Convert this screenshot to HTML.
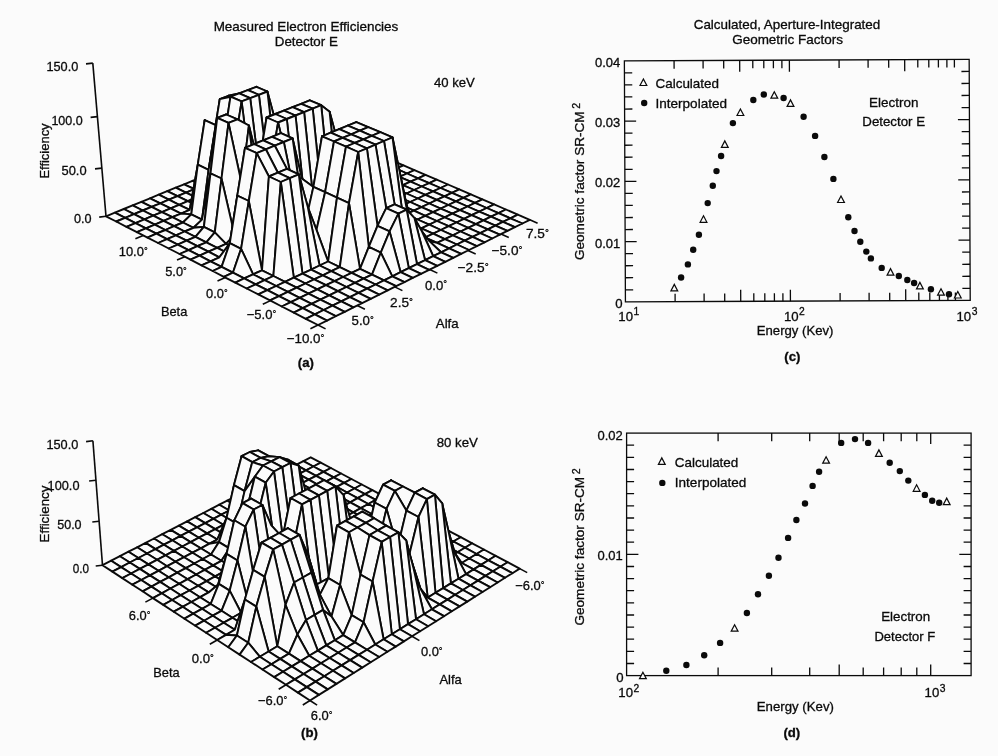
<!DOCTYPE html>
<html><head><meta charset="utf-8"><title>Figure</title>
<style>
html,body{margin:0;padding:0;background:#fbfbfb;}
body{width:998px;height:756px;overflow:hidden;}
svg{display:block;font-family:"Liberation Sans", sans-serif;fill:#0a0a0a;}
svg text{stroke:#0a0a0a;stroke-width:0.3px;}
</style></head><body>
<svg width="998" height="756" viewBox="0 0 998 756">
<rect width="998" height="756" fill="#fbfbfb" stroke="none"/>
<g fill="#fbfbfb" stroke="#0a0a0a" stroke-width="1.9" stroke-linejoin="round">
<path d="M311.5 132.1L321.7 136.5L329.2 133.4L319.0 129.0Z"/>
<path d="M303.9 135.2L314.2 139.6L321.7 136.5L311.5 132.1Z"/>
<path d="M296.3 138.3L306.6 142.8L314.2 139.6L303.9 135.2Z"/>
<path d="M288.7 141.4L298.9 146.0L306.6 142.8L296.3 138.3Z"/>
<path d="M280.9 144.6L291.2 149.2L298.9 146.0L288.7 141.4Z"/>
<path d="M273.2 147.8L283.4 152.4L291.2 149.2L280.9 144.6Z"/>
<path d="M265.4 151.0L275.6 155.6L283.4 152.4L273.2 147.8Z"/>
<path d="M257.5 154.2L267.7 158.9L275.6 155.6L265.4 151.0Z"/>
<path d="M249.6 157.5L259.8 162.1L267.7 158.9L257.5 154.2Z"/>
<path d="M241.6 160.7L251.8 165.4L259.8 162.1L249.6 157.5Z"/>
<path d="M233.5 164.0L243.8 168.8L251.8 165.4L241.6 160.7Z"/>
<path d="M225.5 167.3L235.7 172.1L243.8 168.8L233.5 164.0Z"/>
<path d="M217.3 170.7L227.6 175.5L235.7 172.1L225.5 167.3Z"/>
<path d="M209.1 174.0L219.4 178.9L227.6 175.5L217.3 170.7Z"/>
<path d="M200.8 177.4L211.1 182.3L219.4 178.9L209.1 174.0Z"/>
<path d="M192.5 180.8L202.8 185.7L211.1 182.3L200.8 177.4Z"/>
<path d="M184.1 184.3L194.4 189.2L202.8 185.7L192.5 180.8Z"/>
<path d="M175.7 187.7L186.0 192.7L194.4 189.2L184.1 184.3Z"/>
<path d="M167.2 191.2L177.5 196.2L186.0 192.7L175.7 187.7Z"/>
<path d="M158.7 194.7L168.9 199.7L177.5 196.2L167.2 191.2Z"/>
<path d="M150.0 198.3L160.3 203.3L168.9 199.7L158.7 194.7Z"/>
<path d="M141.4 201.8L151.6 206.9L160.3 203.3L150.0 198.3Z"/>
<path d="M132.6 205.4L142.8 210.5L151.6 206.9L141.4 201.8Z"/>
<path d="M123.8 209.0L134.0 214.2L142.8 210.5L132.6 205.4Z"/>
<path d="M114.9 212.6L125.2 217.8L134.0 214.2L123.8 209.0Z"/>
<path d="M106.0 216.3L116.2 221.5L125.2 217.8L114.9 212.6Z"/>
<path d="M321.7 136.5L332.1 141.0L339.6 137.9L329.2 133.4Z"/>
<path d="M314.2 139.6L324.5 144.1L332.1 141.0L321.7 136.5Z"/>
<path d="M306.6 142.8L316.9 147.3L324.5 144.1L314.2 139.6Z"/>
<path d="M298.9 146.0L309.2 150.5L316.9 147.3L306.6 142.8Z"/>
<path d="M291.2 149.2L301.5 153.7L309.2 150.5L298.9 146.0Z"/>
<path d="M283.4 152.4L293.8 157.0L301.5 153.7L291.2 149.2Z"/>
<path d="M275.6 155.6L286.0 160.3L293.8 157.0L283.4 152.4Z"/>
<path d="M267.7 158.9L278.1 163.5L286.0 160.3L275.6 155.6Z"/>
<path d="M259.8 162.1L270.2 166.8L278.1 163.5L267.7 158.9Z"/>
<path d="M251.8 165.4L262.2 170.2L270.2 166.8L259.8 162.1Z"/>
<path d="M243.8 168.8L254.1 173.5L262.2 170.2L251.8 165.4Z"/>
<path d="M235.7 172.1L246.1 176.9L254.1 173.5L243.8 168.8Z"/>
<path d="M227.6 175.5L237.9 180.3L246.1 176.9L235.7 172.1Z"/>
<path d="M219.4 178.9L229.7 183.7L237.9 180.3L227.6 175.5Z"/>
<path d="M211.1 182.3L221.4 187.2L229.7 183.7L219.4 178.9Z"/>
<path d="M202.8 185.7L213.1 190.7L221.4 187.2L211.1 182.3Z"/>
<path d="M194.4 189.2L204.7 194.2L213.1 190.7L202.8 185.7Z"/>
<path d="M186.0 192.7L196.3 197.7L204.7 194.2L194.4 189.2Z"/>
<path d="M177.5 196.2L187.8 201.2L196.3 197.7L186.0 192.7Z"/>
<path d="M168.9 199.7L179.2 204.8L187.8 201.2L177.5 196.2Z"/>
<path d="M160.3 203.3L170.6 208.4L179.2 204.8L168.9 199.7Z"/>
<path d="M151.6 206.9L161.9 212.1L170.6 208.4L160.3 203.3Z"/>
<path d="M142.8 210.5L153.2 215.7L161.9 212.1L151.6 206.9Z"/>
<path d="M134.0 214.2L144.4 219.4L153.2 215.7L142.8 210.5Z"/>
<path d="M125.2 217.8L135.5 223.1L144.4 219.4L134.0 214.2Z"/>
<path d="M116.2 221.5L126.5 226.8L135.5 223.1L125.2 217.8Z"/>
<path d="M332.1 141.0L342.5 145.5L350.0 142.3L339.6 137.9Z"/>
<path d="M324.5 144.1L334.9 148.7L342.5 145.5L332.1 141.0Z"/>
<path d="M316.9 147.3L327.3 151.9L334.9 148.7L324.5 144.1Z"/>
<path d="M309.2 150.5L319.7 155.1L327.3 151.9L316.9 147.3Z"/>
<path d="M301.5 153.7L312.0 158.4L319.7 155.1L309.2 150.5Z"/>
<path d="M293.8 157.0L304.2 161.7L312.0 158.4L301.5 153.7Z"/>
<path d="M286.0 160.3L296.4 164.9L304.2 161.7L293.8 157.0Z"/>
<path d="M278.1 163.5L288.5 168.3L296.4 164.9L286.0 160.3Z"/>
<path d="M270.2 166.8L280.6 171.6L288.5 168.3L278.1 163.5Z"/>
<path d="M262.2 170.2L272.6 175.0L280.6 171.6L270.2 166.8Z"/>
<path d="M254.1 173.5L264.2 159.8L272.6 175.0L262.2 170.2Z"/>
<path d="M246.1 176.9L255.3 134.8L264.2 159.8L254.1 173.5Z"/>
<path d="M237.9 180.3L246.0 104.2L255.3 134.8L246.1 176.9Z"/>
<path d="M229.7 183.7L237.3 100.5L246.0 104.2L237.9 180.3Z"/>
<path d="M221.4 187.2L228.5 95.8L237.3 100.5L229.7 183.7Z"/>
<path d="M213.1 190.7L219.8 99.1L228.5 95.8L221.4 187.2Z"/>
<path d="M204.7 194.2L212.8 142.0L219.8 99.1L213.1 190.7Z"/>
<path d="M196.3 197.7L206.0 185.8L212.8 142.0L204.7 194.2Z"/>
<path d="M187.8 201.2L198.2 206.3L206.0 185.8L196.3 197.7Z"/>
<path d="M179.2 204.8L189.7 209.9L198.2 206.3L187.8 201.2Z"/>
<path d="M170.6 208.4L181.0 213.6L189.7 209.9L179.2 204.8Z"/>
<path d="M161.9 212.1L172.3 217.2L181.0 213.6L170.6 208.4Z"/>
<path d="M153.2 215.7L163.6 220.9L172.3 217.2L161.9 212.1Z"/>
<path d="M144.4 219.4L154.8 224.6L163.6 220.9L153.2 215.7Z"/>
<path d="M135.5 223.1L145.9 228.4L154.8 224.6L144.4 219.4Z"/>
<path d="M126.5 226.8L136.9 232.2L145.9 228.4L135.5 223.1Z"/>
<path d="M342.5 145.5L353.0 150.1L360.5 146.9L350.0 142.3Z"/>
<path d="M334.9 148.7L345.4 153.3L353.0 150.1L342.5 145.5Z"/>
<path d="M327.3 151.9L337.8 156.5L345.4 153.3L334.9 148.7Z"/>
<path d="M319.7 155.1L330.2 159.8L337.8 156.5L327.3 151.9Z"/>
<path d="M312.0 158.4L322.5 163.1L330.2 159.8L319.7 155.1Z"/>
<path d="M304.2 161.7L314.7 166.4L322.5 163.1L312.0 158.4Z"/>
<path d="M296.4 164.9L306.9 169.7L314.7 166.4L304.2 161.7Z"/>
<path d="M288.5 168.3L299.0 173.0L306.9 169.7L296.4 164.9Z"/>
<path d="M280.6 171.6L291.1 176.4L299.0 173.0L288.5 168.3Z"/>
<path d="M272.6 175.0L283.1 179.8L291.1 176.4L280.6 171.6Z"/>
<path d="M264.2 159.8L274.6 153.2L283.1 179.8L272.6 175.0Z"/>
<path d="M255.3 134.8L265.6 120.6L274.6 153.2L264.2 159.8Z"/>
<path d="M246.0 104.2L256.4 86.8L265.6 120.6L255.3 134.8Z"/>
<path d="M237.3 100.5L247.8 90.1L256.4 86.8L246.0 104.2Z"/>
<path d="M228.5 95.8L239.2 93.4L247.8 90.1L237.3 100.5Z"/>
<path d="M219.8 99.1L230.5 96.7L239.2 93.4L228.5 95.8Z"/>
<path d="M212.8 142.0L223.4 142.7L230.5 96.7L219.8 99.1Z"/>
<path d="M206.0 185.8L213.9 126.2L223.4 142.7L212.8 142.0Z"/>
<path d="M198.2 206.3L204.7 120.2L213.9 126.2L206.0 185.8Z"/>
<path d="M189.7 209.9L197.8 164.7L204.7 120.2L198.2 206.3Z"/>
<path d="M181.0 213.6L191.3 214.4L197.8 164.7L189.7 209.9Z"/>
<path d="M172.3 217.2L182.9 222.5L191.3 214.4L181.0 213.6Z"/>
<path d="M163.6 220.9L174.1 226.2L182.9 222.5L172.3 217.2Z"/>
<path d="M154.8 224.6L165.3 230.0L174.1 226.2L163.6 220.9Z"/>
<path d="M145.9 228.4L156.4 233.7L165.3 230.0L154.8 224.6Z"/>
<path d="M136.9 232.2L147.5 237.6L156.4 233.7L145.9 228.4Z"/>
<path d="M353.0 150.1L363.6 154.7L371.1 151.4L360.5 146.9Z"/>
<path d="M345.4 153.3L356.1 157.9L363.6 154.7L353.0 150.1Z"/>
<path d="M337.8 156.5L348.5 161.2L356.1 157.9L345.4 153.3Z"/>
<path d="M330.2 159.8L340.8 164.5L348.5 161.2L337.8 156.5Z"/>
<path d="M322.5 163.1L333.1 167.8L340.8 164.5L330.2 159.8Z"/>
<path d="M314.7 166.4L325.3 171.1L333.1 167.8L322.5 163.1Z"/>
<path d="M306.9 169.7L317.5 174.5L325.3 171.1L314.7 166.4Z"/>
<path d="M299.0 173.0L309.7 177.8L317.5 174.5L306.9 169.7Z"/>
<path d="M291.1 176.4L301.7 181.2L309.7 177.8L299.0 173.0Z"/>
<path d="M283.1 179.8L293.8 184.7L301.7 181.2L291.1 176.4Z"/>
<path d="M274.6 153.2L285.3 158.1L293.8 184.7L283.1 179.8Z"/>
<path d="M265.6 120.6L276.5 125.4L285.3 158.1L274.6 153.2Z"/>
<path d="M256.4 86.8L267.4 91.5L276.5 125.4L265.6 120.6Z"/>
<path d="M247.8 90.1L258.9 94.8L267.4 91.5L256.4 86.8Z"/>
<path d="M239.2 93.4L250.2 98.1L258.9 94.8L247.8 90.1Z"/>
<path d="M230.5 96.7L241.6 101.4L250.2 98.1L239.2 93.4Z"/>
<path d="M223.4 142.7L234.3 147.7L241.6 101.4L230.5 96.7Z"/>
<path d="M213.9 126.2L224.8 131.1L234.3 147.7L223.4 142.7Z"/>
<path d="M204.7 120.2L215.7 125.1L224.8 131.1L213.9 126.2Z"/>
<path d="M197.8 164.7L208.6 169.8L215.7 125.1L204.7 120.2Z"/>
<path d="M191.3 214.4L202.0 219.6L208.6 169.8L197.8 164.7Z"/>
<path d="M182.9 222.5L193.5 227.8L202.0 219.6L191.3 214.4Z"/>
<path d="M174.1 226.2L184.7 231.5L193.5 227.8L182.9 222.5Z"/>
<path d="M165.3 230.0L175.9 235.3L184.7 231.5L174.1 226.2Z"/>
<path d="M156.4 233.7L167.0 239.1L175.9 235.3L165.3 230.0Z"/>
<path d="M147.5 237.6L158.1 243.0L167.0 239.1L156.4 233.7Z"/>
<path d="M363.6 154.7L374.3 159.3L381.8 156.0L371.1 151.4Z"/>
<path d="M356.1 157.9L366.8 162.6L374.3 159.3L363.6 154.7Z"/>
<path d="M348.5 161.2L359.2 165.9L366.8 162.6L356.1 157.9Z"/>
<path d="M340.8 164.5L351.5 169.2L359.2 165.9L348.5 161.2Z"/>
<path d="M333.1 167.8L343.8 172.5L351.5 169.2L340.8 164.5Z"/>
<path d="M325.3 171.1L336.1 175.9L343.8 172.5L333.1 167.8Z"/>
<path d="M317.5 174.5L328.2 179.3L336.1 175.9L325.3 171.1Z"/>
<path d="M309.7 177.8L320.4 182.7L328.2 179.3L317.5 174.5Z"/>
<path d="M301.7 181.2L312.5 186.1L320.4 182.7L309.7 177.8Z"/>
<path d="M293.8 184.7L304.5 189.6L312.5 186.1L301.7 181.2Z"/>
<path d="M285.3 158.1L296.5 193.1L304.5 189.6L293.8 184.7Z"/>
<path d="M276.5 125.4L288.4 196.6L296.5 193.1L285.3 158.1Z"/>
<path d="M267.4 91.5L280.2 200.1L288.4 196.6L276.5 125.4Z"/>
<path d="M258.9 94.8L272.0 203.7L280.2 200.1L267.4 91.5Z"/>
<path d="M250.2 98.1L263.8 207.3L272.0 203.7L258.9 94.8Z"/>
<path d="M241.6 101.4L255.4 210.9L263.8 207.3L250.2 98.1Z"/>
<path d="M234.3 147.7L247.1 214.5L255.4 210.9L241.6 101.4Z"/>
<path d="M224.8 131.1L236.5 155.0L247.1 214.5L234.3 147.7Z"/>
<path d="M215.7 125.1L226.2 114.5L236.5 155.0L224.8 131.1Z"/>
<path d="M208.6 169.8L217.2 117.9L226.2 114.5L215.7 125.1Z"/>
<path d="M202.0 219.6L210.5 173.3L217.2 117.9L208.6 169.8Z"/>
<path d="M193.5 227.8L203.9 226.9L210.5 173.3L202.0 219.6Z"/>
<path d="M184.7 231.5L195.4 236.9L203.9 226.9L193.5 227.8Z"/>
<path d="M175.9 235.3L186.6 240.7L195.4 236.9L184.7 231.5Z"/>
<path d="M167.0 239.1L177.7 244.6L186.6 240.7L175.9 235.3Z"/>
<path d="M158.1 243.0L168.8 248.5L177.7 244.6L167.0 239.1Z"/>
<path d="M374.3 159.3L385.1 164.0L392.6 160.7L381.8 156.0Z"/>
<path d="M366.8 162.6L377.5 167.3L385.1 164.0L374.3 159.3Z"/>
<path d="M359.2 165.9L370.0 170.6L377.5 167.3L366.8 162.6Z"/>
<path d="M351.5 169.2L362.3 174.0L370.0 170.6L359.2 165.9Z"/>
<path d="M343.8 172.5L354.6 177.3L362.3 174.0L351.5 169.2Z"/>
<path d="M336.1 175.9L346.9 180.7L354.6 177.3L343.8 172.5Z"/>
<path d="M328.2 179.3L339.1 184.1L346.9 180.7L336.1 175.9Z"/>
<path d="M320.4 182.7L331.2 187.6L339.1 184.1L328.2 179.3Z"/>
<path d="M312.5 186.1L323.3 191.1L331.2 187.6L320.4 182.7Z"/>
<path d="M304.5 189.6L315.3 194.6L323.3 191.1L312.5 186.1Z"/>
<path d="M296.5 193.1L307.3 198.1L315.3 194.6L304.5 189.6Z"/>
<path d="M288.4 196.6L299.2 201.6L307.3 198.1L296.5 193.1Z"/>
<path d="M280.2 200.1L291.0 205.2L299.2 201.6L288.4 196.6Z"/>
<path d="M272.0 203.7L282.8 208.8L291.0 205.2L280.2 200.1Z"/>
<path d="M263.8 207.3L274.6 212.4L282.8 208.8L272.0 203.7Z"/>
<path d="M255.4 210.9L266.3 216.1L274.6 212.4L263.8 207.3Z"/>
<path d="M247.1 214.5L257.9 219.7L266.3 216.1L255.4 210.9Z"/>
<path d="M236.5 155.0L247.6 160.0L257.9 219.7L247.1 214.5Z"/>
<path d="M226.2 114.5L237.5 119.4L247.6 160.0L236.5 155.0Z"/>
<path d="M217.2 117.9L228.5 122.9L237.5 119.4L226.2 114.5Z"/>
<path d="M210.5 173.3L221.5 178.5L228.5 122.9L217.2 117.9Z"/>
<path d="M203.9 226.9L214.8 232.3L221.5 178.5L210.5 173.3Z"/>
<path d="M195.4 236.9L206.3 242.3L214.8 232.3L203.9 226.9Z"/>
<path d="M186.6 240.7L197.4 246.2L206.3 242.3L195.4 236.9Z"/>
<path d="M177.7 244.6L188.6 250.1L197.4 246.2L186.6 240.7Z"/>
<path d="M168.8 248.5L179.6 254.0L188.6 250.1L177.7 244.6Z"/>
<path d="M385.1 164.0L396.0 168.7L403.5 165.4L392.6 160.7Z"/>
<path d="M377.5 167.3L388.4 172.0L396.0 168.7L385.1 164.0Z"/>
<path d="M370.0 170.6L380.9 175.4L388.4 172.0L377.5 167.3Z"/>
<path d="M362.3 174.0L373.2 178.8L380.9 175.4L370.0 170.6Z"/>
<path d="M354.6 177.3L365.5 182.2L373.2 178.8L362.3 174.0Z"/>
<path d="M346.9 180.7L357.8 185.6L365.5 182.2L354.6 177.3Z"/>
<path d="M339.1 184.1L350.0 189.1L357.8 185.6L346.9 180.7Z"/>
<path d="M331.2 187.6L342.1 192.5L350.0 189.1L339.1 184.1Z"/>
<path d="M323.3 191.1L334.3 170.5L342.1 192.5L331.2 187.6Z"/>
<path d="M315.3 194.6L326.4 137.1L334.3 170.5L323.3 191.1Z"/>
<path d="M307.3 198.1L318.1 107.0L326.4 137.1L315.3 194.6Z"/>
<path d="M299.2 201.6L309.7 100.4L318.1 107.0L307.3 198.1Z"/>
<path d="M291.0 205.2L301.2 103.8L309.7 100.4L299.2 201.6Z"/>
<path d="M282.8 208.8L292.6 107.2L301.2 103.8L291.0 205.2Z"/>
<path d="M274.6 212.4L284.0 110.6L292.6 107.2L282.8 208.8Z"/>
<path d="M266.3 216.1L275.3 114.0L284.0 110.6L274.6 212.4Z"/>
<path d="M257.9 219.7L266.6 117.5L275.3 114.0L266.3 216.1Z"/>
<path d="M247.6 160.0L258.8 165.2L266.6 117.5L257.9 219.7Z"/>
<path d="M237.5 119.4L248.9 125.5L258.8 165.2L247.6 160.0Z"/>
<path d="M228.5 122.9L241.7 183.8L248.9 125.5L237.5 119.4Z"/>
<path d="M221.5 178.5L234.5 234.9L241.7 183.8L228.5 122.9Z"/>
<path d="M214.8 232.3L226.0 243.9L234.5 234.9L221.5 178.5Z"/>
<path d="M206.3 242.3L217.2 247.8L226.0 243.9L214.8 232.3Z"/>
<path d="M197.4 246.2L208.4 251.7L217.2 247.8L206.3 242.3Z"/>
<path d="M188.6 250.1L199.5 255.7L208.4 251.7L197.4 246.2Z"/>
<path d="M179.6 254.0L190.5 259.6L199.5 255.7L188.6 250.1Z"/>
<path d="M396.0 168.7L407.0 173.5L414.4 170.1L403.5 165.4Z"/>
<path d="M388.4 172.0L399.4 176.8L407.0 173.5L396.0 168.7Z"/>
<path d="M380.9 175.4L391.8 180.2L399.4 176.8L388.4 172.0Z"/>
<path d="M373.2 178.8L384.2 183.6L391.8 180.2L380.9 175.4Z"/>
<path d="M365.5 182.2L376.5 187.1L384.2 183.6L373.2 178.8Z"/>
<path d="M357.8 185.6L368.8 190.5L376.5 187.1L365.5 182.2Z"/>
<path d="M350.0 189.1L361.0 194.0L368.8 190.5L357.8 185.6Z"/>
<path d="M342.1 192.5L353.1 197.5L361.0 194.0L350.0 189.1Z"/>
<path d="M334.3 170.5L345.5 175.4L353.1 197.5L342.1 192.5Z"/>
<path d="M326.4 137.1L337.7 142.0L345.5 175.4L334.3 170.5Z"/>
<path d="M318.1 107.0L329.6 111.8L337.7 142.0L326.4 137.1Z"/>
<path d="M309.7 100.4L321.2 105.2L329.6 111.8L318.1 107.0Z"/>
<path d="M301.2 103.8L312.7 108.6L321.2 105.2L309.7 100.4Z"/>
<path d="M292.6 107.2L304.1 112.1L312.7 108.6L301.2 103.8Z"/>
<path d="M284.0 110.6L295.5 115.5L304.1 112.1L292.6 107.2Z"/>
<path d="M275.3 114.0L286.8 119.0L295.5 115.5L284.0 110.6Z"/>
<path d="M266.6 117.5L278.1 122.5L286.8 119.0L275.3 114.0Z"/>
<path d="M258.8 165.2L270.1 170.3L278.1 122.5L266.6 117.5Z"/>
<path d="M248.9 125.5L262.9 237.9L270.1 170.3L258.8 165.2Z"/>
<path d="M241.7 183.8L254.3 241.7L262.9 237.9L248.9 125.5Z"/>
<path d="M234.5 234.9L245.7 245.6L254.3 241.7L241.7 183.8Z"/>
<path d="M226.0 243.9L237.0 249.4L245.7 245.6L234.5 234.9Z"/>
<path d="M217.2 247.8L228.2 253.4L237.0 249.4L226.0 243.9Z"/>
<path d="M208.4 251.7L219.4 257.3L228.2 253.4L217.2 247.8Z"/>
<path d="M199.5 255.7L210.5 261.3L219.4 257.3L208.4 251.7Z"/>
<path d="M190.5 259.6L201.5 265.3L210.5 261.3L199.5 255.7Z"/>
<path d="M407.0 173.5L418.0 178.3L425.5 174.9L414.4 170.1Z"/>
<path d="M399.4 176.8L410.5 181.7L418.0 178.3L407.0 173.5Z"/>
<path d="M391.8 180.2L402.9 185.1L410.5 181.7L399.4 176.8Z"/>
<path d="M384.2 183.6L395.3 188.5L402.9 185.1L391.8 180.2Z"/>
<path d="M376.5 187.1L387.6 192.0L395.3 188.5L384.2 183.6Z"/>
<path d="M368.8 190.5L379.9 195.5L387.6 192.0L376.5 187.1Z"/>
<path d="M361.0 194.0L372.1 199.0L379.9 195.5L368.8 190.5Z"/>
<path d="M353.1 197.5L364.2 202.6L372.1 199.0L361.0 194.0Z"/>
<path d="M345.5 175.4L356.3 206.1L364.2 202.6L353.1 197.5Z"/>
<path d="M337.7 142.0L348.4 209.7L356.3 206.1L345.5 175.4Z"/>
<path d="M329.6 111.8L340.3 213.3L348.4 209.7L337.7 142.0Z"/>
<path d="M321.2 105.2L332.3 217.0L340.3 213.3L329.6 111.8Z"/>
<path d="M312.7 108.6L324.1 220.7L332.3 217.0L321.2 105.2Z"/>
<path d="M304.1 112.1L315.9 224.4L324.1 220.7L312.7 108.6Z"/>
<path d="M295.5 115.5L307.7 228.1L315.9 224.4L304.1 112.1Z"/>
<path d="M286.8 119.0L299.3 231.9L307.7 228.1L295.5 115.5Z"/>
<path d="M278.1 122.5L290.2 173.1L299.3 231.9L286.8 119.0Z"/>
<path d="M270.1 170.3L280.9 133.2L290.2 173.1L278.1 122.5Z"/>
<path d="M262.9 237.9L272.0 136.8L280.9 133.2L270.1 170.3Z"/>
<path d="M254.3 241.7L263.1 140.4L272.0 136.8L262.9 237.9Z"/>
<path d="M245.7 245.6L254.1 144.1L263.1 140.4L254.3 241.7Z"/>
<path d="M237.0 249.4L245.0 147.8L254.1 144.1L245.7 245.6Z"/>
<path d="M228.2 253.4L237.3 195.6L245.0 147.8L237.0 249.4Z"/>
<path d="M219.4 257.3L229.8 243.2L237.3 195.6L228.2 253.4Z"/>
<path d="M210.5 261.3L221.6 266.9L229.8 243.2L219.4 257.3Z"/>
<path d="M201.5 265.3L212.7 271.0L221.6 266.9L210.5 261.3Z"/>
<path d="M418.0 178.3L429.2 183.1L436.7 179.7L425.5 174.9Z"/>
<path d="M410.5 181.7L421.7 186.5L429.2 183.1L418.0 178.3Z"/>
<path d="M402.9 185.1L414.1 190.0L421.7 186.5L410.5 181.7Z"/>
<path d="M395.3 188.5L406.5 193.5L414.1 190.0L402.9 185.1Z"/>
<path d="M387.6 192.0L398.8 197.0L406.5 193.5L395.3 188.5Z"/>
<path d="M379.9 195.5L391.1 200.5L398.8 197.0L387.6 192.0Z"/>
<path d="M372.1 199.0L383.3 204.1L391.1 200.5L379.9 195.5Z"/>
<path d="M364.2 202.6L375.4 207.6L383.3 204.1L372.1 199.0Z"/>
<path d="M356.3 206.1L367.5 211.2L375.4 207.6L364.2 202.6Z"/>
<path d="M348.4 209.7L359.6 214.9L367.5 211.2L356.3 206.1Z"/>
<path d="M340.3 213.3L351.6 218.5L359.6 214.9L348.4 209.7Z"/>
<path d="M332.3 217.0L343.5 222.2L351.6 218.5L340.3 213.3Z"/>
<path d="M324.1 220.7L335.4 225.9L343.5 222.2L332.3 217.0Z"/>
<path d="M315.9 224.4L327.2 229.7L335.4 225.9L324.1 220.7Z"/>
<path d="M307.7 228.1L318.9 233.4L327.2 229.7L315.9 224.4Z"/>
<path d="M299.3 231.9L310.6 237.2L318.9 233.4L307.7 228.1Z"/>
<path d="M290.2 173.1L301.8 178.4L310.6 237.2L299.3 231.9Z"/>
<path d="M280.9 133.2L292.6 138.4L301.8 178.4L290.2 173.1Z"/>
<path d="M272.0 136.8L283.8 142.0L292.6 138.4L280.9 133.2Z"/>
<path d="M263.1 140.4L274.8 145.7L283.8 142.0L272.0 136.8Z"/>
<path d="M254.1 144.1L265.8 149.3L274.8 145.7L263.1 140.4Z"/>
<path d="M245.0 147.8L256.7 153.1L265.8 149.3L254.1 144.1Z"/>
<path d="M237.3 195.6L248.8 201.0L256.7 153.1L245.0 147.8Z"/>
<path d="M229.8 243.2L241.1 248.8L248.8 201.0L237.3 195.6Z"/>
<path d="M221.6 266.9L232.9 272.7L241.1 248.8L229.8 243.2Z"/>
<path d="M212.7 271.0L223.9 276.8L232.9 272.7L221.6 266.9Z"/>
<path d="M429.2 183.1L440.5 188.0L448.0 184.5L436.7 179.7Z"/>
<path d="M421.7 186.5L433.0 191.4L440.5 188.0L429.2 183.1Z"/>
<path d="M414.1 190.0L425.4 194.9L433.0 191.4L421.7 186.5Z"/>
<path d="M406.5 193.5L417.8 198.5L425.4 194.9L414.1 190.0Z"/>
<path d="M398.8 197.0L410.1 202.0L417.8 198.5L406.5 193.5Z"/>
<path d="M391.1 200.5L402.4 205.6L410.1 202.0L398.8 197.0Z"/>
<path d="M383.3 204.1L394.6 209.1L402.4 205.6L391.1 200.5Z"/>
<path d="M375.4 207.6L386.8 212.8L394.6 209.1L383.3 204.1Z"/>
<path d="M367.5 211.2L378.9 216.4L386.8 212.8L375.4 207.6Z"/>
<path d="M359.6 214.9L371.5 189.5L378.9 216.4L367.5 211.2Z"/>
<path d="M351.6 218.5L364.1 156.4L371.5 189.5L359.6 214.9Z"/>
<path d="M343.5 222.2L356.3 122.1L364.1 156.4L351.6 218.5Z"/>
<path d="M335.4 225.9L347.8 125.6L356.3 122.1L343.5 222.2Z"/>
<path d="M327.2 229.7L339.3 129.2L347.8 125.6L335.4 225.9Z"/>
<path d="M318.9 233.4L330.7 132.7L339.3 129.2L327.2 229.7Z"/>
<path d="M310.6 237.2L322.0 136.3L330.7 132.7L318.9 233.4Z"/>
<path d="M301.8 178.4L313.4 186.9L322.0 136.3L310.6 237.2Z"/>
<path d="M292.6 138.4L305.0 224.4L313.4 186.9L301.8 178.4Z"/>
<path d="M283.8 142.0L296.1 201.6L305.0 224.4L292.6 138.4Z"/>
<path d="M274.8 145.7L286.9 168.9L296.1 201.6L283.8 142.0Z"/>
<path d="M265.8 149.3L277.9 172.7L286.9 168.9L274.8 145.7Z"/>
<path d="M256.7 153.1L268.9 176.5L277.9 172.7L265.8 149.3Z"/>
<path d="M248.8 201.0L262.0 270.3L268.9 176.5L256.7 153.1Z"/>
<path d="M241.1 248.8L253.1 274.3L262.0 270.3L248.8 201.0Z"/>
<path d="M232.9 272.7L244.2 278.4L253.1 274.3L241.1 248.8Z"/>
<path d="M223.9 276.8L235.3 282.6L244.2 278.4L232.9 272.7Z"/>
<path d="M440.5 188.0L451.9 192.9L459.3 189.4L448.0 184.5Z"/>
<path d="M433.0 191.4L444.4 196.4L451.9 192.9L440.5 188.0Z"/>
<path d="M425.4 194.9L436.8 199.9L444.4 196.4L433.0 191.4Z"/>
<path d="M417.8 198.5L429.2 203.5L436.8 199.9L425.4 194.9Z"/>
<path d="M410.1 202.0L421.5 207.1L429.2 203.5L417.8 198.5Z"/>
<path d="M402.4 205.6L413.8 210.7L421.5 207.1L410.1 202.0Z"/>
<path d="M394.6 209.1L406.0 214.3L413.8 210.7L402.4 205.6Z"/>
<path d="M386.8 212.8L398.2 217.9L406.0 214.3L394.6 209.1Z"/>
<path d="M378.9 216.4L390.3 221.6L398.2 217.9L386.8 212.8Z"/>
<path d="M371.5 189.5L383.1 194.7L390.3 221.6L378.9 216.4Z"/>
<path d="M364.1 156.4L375.8 161.5L383.1 194.7L371.5 189.5Z"/>
<path d="M356.3 122.1L368.2 127.1L375.8 161.5L364.1 156.4Z"/>
<path d="M347.8 125.6L359.8 130.7L368.2 127.1L356.3 122.1Z"/>
<path d="M339.3 129.2L351.2 134.3L359.8 130.7L347.8 125.6Z"/>
<path d="M330.7 132.7L342.6 137.9L351.2 134.3L339.3 129.2Z"/>
<path d="M322.0 136.3L334.0 141.5L342.6 137.9L330.7 132.7Z"/>
<path d="M313.4 186.9L325.1 192.2L334.0 141.5L322.0 136.3Z"/>
<path d="M305.0 224.4L316.5 229.9L325.1 192.2L313.4 186.9Z"/>
<path d="M296.1 201.6L307.8 207.1L316.5 229.9L305.0 224.4Z"/>
<path d="M286.9 168.9L298.8 174.3L307.8 207.1L296.1 201.6Z"/>
<path d="M277.9 172.7L289.8 178.1L298.8 174.3L286.9 168.9Z"/>
<path d="M268.9 176.5L280.8 182.0L289.8 178.1L277.9 172.7Z"/>
<path d="M262.0 270.3L273.4 276.0L280.8 182.0L268.9 176.5Z"/>
<path d="M253.1 274.3L264.6 280.1L273.4 276.0L262.0 270.3Z"/>
<path d="M244.2 278.4L255.7 284.3L264.6 280.1L253.1 274.3Z"/>
<path d="M235.3 282.6L246.7 288.5L255.7 284.3L244.2 278.4Z"/>
<path d="M451.9 192.9L463.4 197.9L470.8 194.4L459.3 189.4Z"/>
<path d="M444.4 196.4L455.9 201.4L463.4 197.9L451.9 192.9Z"/>
<path d="M436.8 199.9L448.3 205.0L455.9 201.4L444.4 196.4Z"/>
<path d="M429.2 203.5L440.7 208.6L448.3 205.0L436.8 199.9Z"/>
<path d="M421.5 207.1L433.0 212.2L440.7 208.6L429.2 203.5Z"/>
<path d="M413.8 210.7L425.3 215.8L433.0 212.2L421.5 207.1Z"/>
<path d="M406.0 214.3L417.5 219.5L425.3 215.8L413.8 210.7Z"/>
<path d="M398.2 217.9L409.7 223.1L417.5 219.5L406.0 214.3Z"/>
<path d="M390.3 221.6L401.8 226.9L409.7 223.1L398.2 217.9Z"/>
<path d="M383.1 194.7L394.8 199.9L401.8 226.9L390.3 221.6Z"/>
<path d="M375.8 161.5L387.7 166.7L394.8 199.9L383.1 194.7Z"/>
<path d="M368.2 127.1L380.3 132.2L387.7 166.7L375.8 161.5Z"/>
<path d="M359.8 130.7L371.8 135.8L380.3 132.2L368.2 127.1Z"/>
<path d="M351.2 134.3L363.3 139.4L371.8 135.8L359.8 130.7Z"/>
<path d="M342.6 137.9L354.7 143.0L363.3 139.4L351.2 134.3Z"/>
<path d="M334.0 141.5L346.0 146.7L354.7 143.0L342.6 137.9Z"/>
<path d="M325.1 192.2L337.0 197.6L346.0 146.7L334.0 141.5Z"/>
<path d="M316.5 229.9L328.1 261.5L337.0 197.6L325.1 192.2Z"/>
<path d="M307.8 207.1L319.6 265.5L328.1 261.5L316.5 229.9Z"/>
<path d="M298.8 174.3L311.1 269.6L319.6 265.5L307.8 207.1Z"/>
<path d="M289.8 178.1L302.5 273.6L311.1 269.6L298.8 174.3Z"/>
<path d="M280.8 182.0L293.8 277.7L302.5 273.6L289.8 178.1Z"/>
<path d="M273.4 276.0L285.0 281.8L293.8 277.7L280.8 182.0Z"/>
<path d="M264.6 280.1L276.2 286.0L285.0 281.8L273.4 276.0Z"/>
<path d="M255.7 284.3L267.3 290.2L276.2 286.0L264.6 280.1Z"/>
<path d="M246.7 288.5L258.3 294.4L267.3 290.2L255.7 284.3Z"/>
<path d="M463.4 197.9L475.0 202.9L482.4 199.4L470.8 194.4Z"/>
<path d="M455.9 201.4L467.5 206.5L475.0 202.9L463.4 197.9Z"/>
<path d="M448.3 205.0L459.9 210.1L467.5 206.5L455.9 201.4Z"/>
<path d="M440.7 208.6L452.3 213.7L459.9 210.1L448.3 205.0Z"/>
<path d="M433.0 212.2L444.7 217.3L452.3 213.7L440.7 208.6Z"/>
<path d="M425.3 215.8L436.9 221.0L444.7 217.3L433.0 212.2Z"/>
<path d="M417.5 219.5L429.2 224.7L436.9 221.0L425.3 215.8Z"/>
<path d="M409.7 223.1L421.3 228.4L429.2 224.7L417.5 219.5Z"/>
<path d="M401.8 226.9L413.5 232.2L421.3 228.4L409.7 223.1Z"/>
<path d="M394.8 199.9L406.6 205.1L413.5 232.2L401.8 226.9Z"/>
<path d="M387.7 166.7L399.7 171.9L406.6 205.1L394.8 199.9Z"/>
<path d="M380.3 132.2L392.5 137.4L399.7 171.9L387.7 166.7Z"/>
<path d="M371.8 135.8L384.0 141.0L392.5 137.4L380.3 132.2Z"/>
<path d="M363.3 139.4L375.5 144.6L384.0 141.0L371.8 135.8Z"/>
<path d="M354.7 143.0L366.9 148.3L375.5 144.6L363.3 139.4Z"/>
<path d="M346.0 146.7L358.2 152.0L366.9 148.3L354.7 143.0Z"/>
<path d="M337.0 197.6L349.0 203.1L358.2 152.0L346.0 146.7Z"/>
<path d="M328.1 261.5L339.8 267.2L349.0 203.1L337.0 197.6Z"/>
<path d="M319.6 265.5L331.3 271.2L339.8 267.2L328.1 261.5Z"/>
<path d="M311.1 269.6L322.8 275.3L331.3 271.2L319.6 265.5Z"/>
<path d="M302.5 273.6L314.1 279.4L322.8 275.3L311.1 269.6Z"/>
<path d="M293.8 277.7L305.5 283.5L314.1 279.4L302.5 273.6Z"/>
<path d="M285.0 281.8L296.7 287.7L305.5 283.5L293.8 277.7Z"/>
<path d="M276.2 286.0L287.9 291.9L296.7 287.7L285.0 281.8Z"/>
<path d="M267.3 290.2L279.0 296.1L287.9 291.9L276.2 286.0Z"/>
<path d="M258.3 294.4L270.0 300.4L279.0 296.1L267.3 290.2Z"/>
<path d="M475.0 202.9L486.7 208.0L494.1 204.4L482.4 199.4Z"/>
<path d="M467.5 206.5L479.2 211.6L486.7 208.0L475.0 202.9Z"/>
<path d="M459.9 210.1L471.6 215.2L479.2 211.6L467.5 206.5Z"/>
<path d="M452.3 213.7L464.0 218.9L471.6 215.2L459.9 210.1Z"/>
<path d="M444.7 217.3L456.4 222.5L464.0 218.9L452.3 213.7Z"/>
<path d="M436.9 221.0L448.7 226.2L456.4 222.5L444.7 217.3Z"/>
<path d="M429.2 224.7L440.9 230.0L448.7 226.2L436.9 221.0Z"/>
<path d="M421.3 228.4L433.1 233.7L440.9 230.0L429.2 224.7Z"/>
<path d="M413.5 232.2L425.2 237.5L433.1 233.7L421.3 228.4Z"/>
<path d="M406.6 205.1L417.5 235.6L425.2 237.5L413.5 232.2Z"/>
<path d="M399.7 171.9L410.0 226.0L417.5 235.6L406.6 205.1Z"/>
<path d="M392.5 137.4L402.4 212.8L410.0 226.0L399.7 171.9Z"/>
<path d="M384.0 141.0L394.6 204.3L402.4 212.8L392.5 137.4Z"/>
<path d="M375.5 144.6L386.2 208.1L394.6 204.3L384.0 141.0Z"/>
<path d="M366.9 148.3L377.5 225.8L386.2 208.1L375.5 144.6Z"/>
<path d="M358.2 152.0L368.8 246.9L377.5 225.8L366.9 148.3Z"/>
<path d="M349.0 203.1L360.0 268.9L368.8 246.9L358.2 152.0Z"/>
<path d="M339.8 267.2L351.6 272.9L360.0 268.9L349.0 203.1Z"/>
<path d="M331.3 271.2L343.1 277.0L351.6 272.9L339.8 267.2Z"/>
<path d="M322.8 275.3L334.6 281.1L343.1 277.0L331.3 271.2Z"/>
<path d="M314.1 279.4L326.0 285.2L334.6 281.1L322.8 275.3Z"/>
<path d="M305.5 283.5L317.3 289.4L326.0 285.2L314.1 279.4Z"/>
<path d="M296.7 287.7L308.5 293.6L317.3 289.4L305.5 283.5Z"/>
<path d="M287.9 291.9L299.7 297.9L308.5 293.6L296.7 287.7Z"/>
<path d="M279.0 296.1L290.8 302.1L299.7 297.9L287.9 291.9Z"/>
<path d="M270.0 300.4L281.8 306.5L290.8 302.1L279.0 296.1Z"/>
<path d="M486.7 208.0L498.5 213.1L505.9 209.5L494.1 204.4Z"/>
<path d="M479.2 211.6L491.0 216.7L498.5 213.1L486.7 208.0Z"/>
<path d="M471.6 215.2L483.4 220.4L491.0 216.7L479.2 211.6Z"/>
<path d="M464.0 218.9L475.9 224.1L483.4 220.4L471.6 215.2Z"/>
<path d="M456.4 222.5L468.2 227.8L475.9 224.1L464.0 218.9Z"/>
<path d="M448.7 226.2L460.5 231.5L468.2 227.8L456.4 222.5Z"/>
<path d="M440.9 230.0L452.8 235.3L460.5 231.5L448.7 226.2Z"/>
<path d="M433.1 233.7L444.9 239.1L452.8 235.3L440.9 230.0Z"/>
<path d="M425.2 237.5L437.1 242.9L444.9 239.1L433.1 233.7Z"/>
<path d="M417.5 235.6L429.4 241.1L437.1 242.9L425.2 237.5Z"/>
<path d="M410.0 226.0L422.0 231.5L429.4 241.1L417.5 235.6Z"/>
<path d="M402.4 212.8L414.5 218.2L422.0 231.5L410.0 226.0Z"/>
<path d="M394.6 204.3L406.7 209.7L414.5 218.2L402.4 212.8Z"/>
<path d="M386.2 208.1L398.4 213.6L406.7 209.7L394.6 204.3Z"/>
<path d="M377.5 225.8L389.6 231.4L398.4 213.6L386.2 208.1Z"/>
<path d="M368.8 246.9L380.8 252.6L389.6 231.4L377.5 225.8Z"/>
<path d="M360.0 268.9L372.0 274.6L380.8 252.6L368.8 246.9Z"/>
<path d="M351.6 272.9L363.5 278.7L372.0 274.6L360.0 268.9Z"/>
<path d="M343.1 277.0L355.0 282.8L363.5 278.7L351.6 272.9Z"/>
<path d="M334.6 281.1L346.5 287.0L355.0 282.8L343.1 277.0Z"/>
<path d="M326.0 285.2L337.9 291.1L346.5 287.0L334.6 281.1Z"/>
<path d="M317.3 289.4L329.2 295.4L337.9 291.1L326.0 285.2Z"/>
<path d="M308.5 293.6L320.4 299.6L329.2 295.4L317.3 289.4Z"/>
<path d="M299.7 297.9L311.6 303.9L320.4 299.6L308.5 293.6Z"/>
<path d="M290.8 302.1L302.7 308.2L311.6 303.9L299.7 297.9Z"/>
<path d="M281.8 306.5L293.8 312.6L302.7 308.2L290.8 302.1Z"/>
<path d="M498.5 213.1L510.4 218.3L517.8 214.6L505.9 209.5Z"/>
<path d="M491.0 216.7L502.9 221.9L510.4 218.3L498.5 213.1Z"/>
<path d="M483.4 220.4L495.4 225.6L502.9 221.9L491.0 216.7Z"/>
<path d="M475.9 224.1L487.8 229.4L495.4 225.6L483.4 220.4Z"/>
<path d="M468.2 227.8L480.2 233.1L487.8 229.4L475.9 224.1Z"/>
<path d="M460.5 231.5L472.5 236.9L480.2 233.1L468.2 227.8Z"/>
<path d="M452.8 235.3L464.7 240.7L472.5 236.9L460.5 231.5Z"/>
<path d="M444.9 239.1L456.9 244.5L464.7 240.7L452.8 235.3Z"/>
<path d="M437.1 242.9L449.1 248.4L456.9 244.5L444.9 239.1Z"/>
<path d="M429.4 241.1L441.1 252.3L449.1 248.4L437.1 242.9Z"/>
<path d="M422.0 231.5L433.2 256.2L441.1 252.3L429.4 241.1Z"/>
<path d="M414.5 218.2L425.1 260.2L433.2 256.2L422.0 231.5Z"/>
<path d="M406.7 209.7L417.0 264.1L425.1 260.2L414.5 218.2Z"/>
<path d="M398.4 213.6L408.8 268.1L417.0 264.1L406.7 209.7Z"/>
<path d="M389.6 231.4L400.6 272.2L408.8 268.1L398.4 213.6Z"/>
<path d="M380.8 252.6L392.3 276.3L400.6 272.2L389.6 231.4Z"/>
<path d="M372.0 274.6L384.0 280.4L392.3 276.3L380.8 252.6Z"/>
<path d="M363.5 278.7L375.6 284.5L384.0 280.4L372.0 274.6Z"/>
<path d="M355.0 282.8L367.1 288.7L375.6 284.5L363.5 278.7Z"/>
<path d="M346.5 287.0L358.5 292.9L367.1 288.7L355.0 282.8Z"/>
<path d="M337.9 291.1L349.9 297.1L358.5 292.9L346.5 287.0Z"/>
<path d="M329.2 295.4L341.2 301.4L349.9 297.1L337.9 291.1Z"/>
<path d="M320.4 299.6L332.5 305.7L341.2 301.4L329.2 295.4Z"/>
<path d="M311.6 303.9L323.7 310.0L332.5 305.7L320.4 299.6Z"/>
<path d="M302.7 308.2L314.8 314.4L323.7 310.0L311.6 303.9Z"/>
<path d="M293.8 312.6L305.8 318.8L314.8 314.4L302.7 308.2Z"/>
<path d="M510.4 218.3L522.4 223.5L529.8 219.8L517.8 214.6Z"/>
<path d="M502.9 221.9L514.9 227.2L522.4 223.5L510.4 218.3Z"/>
<path d="M495.4 225.6L507.4 230.9L514.9 227.2L502.9 221.9Z"/>
<path d="M487.8 229.4L499.8 234.7L507.4 230.9L495.4 225.6Z"/>
<path d="M480.2 233.1L492.2 238.5L499.8 234.7L487.8 229.4Z"/>
<path d="M472.5 236.9L484.5 242.3L492.2 238.5L480.2 233.1Z"/>
<path d="M464.7 240.7L476.8 246.1L484.5 242.3L472.5 236.9Z"/>
<path d="M456.9 244.5L469.0 250.0L476.8 246.1L464.7 240.7Z"/>
<path d="M449.1 248.4L461.1 253.9L469.0 250.0L456.9 244.5Z"/>
<path d="M441.1 252.3L453.2 257.8L461.1 253.9L449.1 248.4Z"/>
<path d="M433.2 256.2L445.3 261.8L453.2 257.8L441.1 252.3Z"/>
<path d="M425.1 260.2L437.2 265.8L445.3 261.8L433.2 256.2Z"/>
<path d="M417.0 264.1L429.1 269.8L437.2 265.8L425.1 260.2Z"/>
<path d="M408.8 268.1L421.0 273.9L429.1 269.8L417.0 264.1Z"/>
<path d="M400.6 272.2L412.7 277.9L421.0 273.9L408.8 268.1Z"/>
<path d="M392.3 276.3L404.5 282.1L412.7 277.9L400.6 272.2Z"/>
<path d="M384.0 280.4L396.1 286.2L404.5 282.1L392.3 276.3Z"/>
<path d="M375.6 284.5L387.7 290.4L396.1 286.2L384.0 280.4Z"/>
<path d="M367.1 288.7L379.2 294.6L387.7 290.4L375.6 284.5Z"/>
<path d="M358.5 292.9L370.7 298.8L379.2 294.6L367.1 288.7Z"/>
<path d="M349.9 297.1L362.1 303.1L370.7 298.8L358.5 292.9Z"/>
<path d="M341.2 301.4L353.4 307.4L362.1 303.1L349.9 297.1Z"/>
<path d="M332.5 305.7L344.7 311.8L353.4 307.4L341.2 301.4Z"/>
<path d="M323.7 310.0L335.8 316.1L344.7 311.8L332.5 305.7Z"/>
<path d="M314.8 314.4L327.0 320.6L335.8 316.1L323.7 310.0Z"/>
<path d="M305.8 318.8L318.0 325.0L327.0 320.6L314.8 314.4Z"/>
</g>
<g stroke="#0a0a0a" stroke-width="1.6" fill="none">
<line x1="106.0" y1="216.3" x2="92.8" y2="63.1"/>
<line x1="106.0" y1="216.3" x2="99.2" y2="217.1"/>
<line x1="101.8" y1="168.1" x2="95.0" y2="168.9"/>
<line x1="97.4" y1="116.6" x2="90.6" y2="117.4"/>
<line x1="92.8" y1="63.1" x2="86.0" y2="63.9"/>
<line x1="143.2" y1="235.4" x2="135.4" y2="238.7"/>
<line x1="184.8" y1="256.7" x2="177.0" y2="260.1"/>
<line x1="225.3" y1="277.5" x2="217.5" y2="281.0"/>
<line x1="270.5" y1="300.6" x2="262.8" y2="304.3"/>
<line x1="318.0" y1="325.0" x2="310.4" y2="328.8"/>
<line x1="318.0" y1="325.0" x2="325.6" y2="328.9"/>
<line x1="357.3" y1="305.5" x2="364.9" y2="309.3"/>
<line x1="394.7" y1="286.9" x2="402.4" y2="290.6"/>
<line x1="429.7" y1="269.5" x2="437.4" y2="273.1"/>
<line x1="468.0" y1="250.5" x2="475.7" y2="254.0"/>
<line x1="501.0" y1="234.1" x2="508.8" y2="237.5"/>
<line x1="529.8" y1="219.8" x2="537.6" y2="223.2"/>
</g>
<g fill="#fbfbfb" stroke="#0a0a0a" stroke-width="1.9" stroke-linejoin="round">
<path d="M303.4 461.1L313.4 466.5L320.7 462.6L310.7 457.3Z"/>
<path d="M296.0 464.9L306.0 470.3L313.4 466.5L303.4 461.1Z"/>
<path d="M288.5 468.8L298.6 474.2L306.0 470.3L296.0 464.9Z"/>
<path d="M281.1 472.7L291.1 478.2L298.6 474.2L288.5 468.8Z"/>
<path d="M273.5 476.6L283.5 482.1L291.1 478.2L281.1 472.7Z"/>
<path d="M265.9 480.5L275.9 486.1L283.5 482.1L273.5 476.6Z"/>
<path d="M258.3 484.5L268.3 490.1L275.9 486.1L265.9 480.5Z"/>
<path d="M250.6 488.5L260.6 494.1L268.3 490.1L258.3 484.5Z"/>
<path d="M242.8 492.5L252.8 498.1L260.6 494.1L250.6 488.5Z"/>
<path d="M235.0 496.5L245.0 502.2L252.8 498.1L242.8 492.5Z"/>
<path d="M227.2 500.6L237.2 506.3L245.0 502.2L235.0 496.5Z"/>
<path d="M219.3 504.7L229.3 510.5L237.2 506.3L227.2 500.6Z"/>
<path d="M211.3 508.8L221.3 514.7L229.3 510.5L219.3 504.7Z"/>
<path d="M203.3 513.0L213.3 518.8L221.3 514.7L211.3 508.8Z"/>
<path d="M195.2 517.1L205.2 523.1L213.3 518.8L203.3 513.0Z"/>
<path d="M187.1 521.4L197.0 527.3L205.2 523.1L195.2 517.1Z"/>
<path d="M178.9 525.6L188.8 531.6L197.0 527.3L187.1 521.4Z"/>
<path d="M170.7 529.9L180.6 535.9L188.8 531.6L178.9 525.6Z"/>
<path d="M162.3 534.2L172.3 540.3L180.6 535.9L170.7 529.9Z"/>
<path d="M154.0 538.5L163.9 544.7L172.3 540.3L162.3 534.2Z"/>
<path d="M145.6 542.9L155.5 549.1L163.9 544.7L154.0 538.5Z"/>
<path d="M137.1 547.3L147.0 553.5L155.5 549.1L145.6 542.9Z"/>
<path d="M128.5 551.7L138.4 558.0L147.0 553.5L137.1 547.3Z"/>
<path d="M119.9 556.2L129.8 562.5L138.4 558.0L128.5 551.7Z"/>
<path d="M111.2 560.7L121.1 567.1L129.8 562.5L119.9 556.2Z"/>
<path d="M102.5 565.2L112.4 571.6L121.1 567.1L111.2 560.7Z"/>
<path d="M313.4 466.5L323.5 471.9L330.9 468.0L320.7 462.6Z"/>
<path d="M306.0 470.3L316.1 475.8L323.5 471.9L313.4 466.5Z"/>
<path d="M298.6 474.2L308.7 479.7L316.1 475.8L306.0 470.3Z"/>
<path d="M291.1 478.2L301.2 483.7L308.7 479.7L298.6 474.2Z"/>
<path d="M283.5 482.1L293.6 487.7L301.2 483.7L291.1 478.2Z"/>
<path d="M275.9 486.1L286.0 491.7L293.6 487.7L283.5 482.1Z"/>
<path d="M268.3 490.1L278.4 495.7L286.0 491.7L275.9 486.1Z"/>
<path d="M260.6 494.1L270.7 499.8L278.4 495.7L268.3 490.1Z"/>
<path d="M252.8 498.1L262.9 503.9L270.7 499.8L260.6 494.1Z"/>
<path d="M245.0 502.2L255.1 508.0L262.9 503.9L252.8 498.1Z"/>
<path d="M237.2 506.3L247.3 512.2L255.1 508.0L245.0 502.2Z"/>
<path d="M229.3 510.5L239.3 516.3L247.3 512.2L237.2 506.3Z"/>
<path d="M221.3 514.7L231.4 520.6L239.3 516.3L229.3 510.5Z"/>
<path d="M213.3 518.8L223.3 524.8L231.4 520.6L221.3 514.7Z"/>
<path d="M205.2 523.1L215.2 529.1L223.3 524.8L213.3 518.8Z"/>
<path d="M197.0 527.3L207.1 533.4L215.2 529.1L205.2 523.1Z"/>
<path d="M188.8 531.6L198.9 537.7L207.1 533.4L197.0 527.3Z"/>
<path d="M180.6 535.9L190.6 542.1L198.9 537.7L188.8 531.6Z"/>
<path d="M172.3 540.3L182.3 546.5L190.6 542.1L180.6 535.9Z"/>
<path d="M163.9 544.7L173.9 550.9L182.3 546.5L172.3 540.3Z"/>
<path d="M155.5 549.1L165.5 555.3L173.9 550.9L163.9 544.7Z"/>
<path d="M147.0 553.5L157.0 559.8L165.5 555.3L155.5 549.1Z"/>
<path d="M138.4 558.0L148.4 564.4L157.0 559.8L147.0 553.5Z"/>
<path d="M129.8 562.5L139.8 568.9L148.4 564.4L138.4 558.0Z"/>
<path d="M121.1 567.1L131.1 573.5L139.8 568.9L129.8 562.5Z"/>
<path d="M112.4 571.6L122.3 578.1L131.1 573.5L121.1 567.1Z"/>
<path d="M323.5 471.9L333.7 477.4L341.1 473.5L330.9 468.0Z"/>
<path d="M316.1 475.8L326.3 481.3L333.7 477.4L323.5 471.9Z"/>
<path d="M308.7 479.7L318.9 485.3L326.3 481.3L316.1 475.8Z"/>
<path d="M301.2 483.7L311.4 489.3L318.9 485.3L308.7 479.7Z"/>
<path d="M293.6 487.7L303.9 493.3L311.4 489.3L301.2 483.7Z"/>
<path d="M286.0 491.7L296.3 497.4L303.9 493.3L293.6 487.7Z"/>
<path d="M278.4 495.7L288.6 501.4L296.3 497.4L286.0 491.7Z"/>
<path d="M270.7 499.8L280.9 505.6L288.6 501.4L278.4 495.7Z"/>
<path d="M262.9 503.9L273.1 509.7L280.9 505.6L270.7 499.8Z"/>
<path d="M255.1 508.0L265.3 513.9L273.1 509.7L262.9 503.9Z"/>
<path d="M247.3 512.2L257.5 518.1L265.3 513.9L255.1 508.0Z"/>
<path d="M239.3 516.3L249.5 522.3L257.5 518.1L247.3 512.2Z"/>
<path d="M231.4 520.6L241.5 526.5L249.5 522.3L239.3 516.3Z"/>
<path d="M223.3 524.8L233.5 530.8L241.5 526.5L231.4 520.6Z"/>
<path d="M215.2 529.1L225.4 535.1L233.5 530.8L223.3 524.8Z"/>
<path d="M207.1 533.4L217.3 539.5L225.4 535.1L215.2 529.1Z"/>
<path d="M198.9 537.7L209.1 543.8L217.3 539.5L207.1 533.4Z"/>
<path d="M190.6 542.1L200.8 548.3L209.1 543.8L198.9 537.7Z"/>
<path d="M182.3 546.5L192.5 552.7L200.8 548.3L190.6 542.1Z"/>
<path d="M173.9 550.9L184.1 557.2L192.5 552.7L182.3 546.5Z"/>
<path d="M165.5 555.3L175.6 561.7L184.1 557.2L173.9 550.9Z"/>
<path d="M157.0 559.8L167.1 566.2L175.6 561.7L165.5 555.3Z"/>
<path d="M148.4 564.4L158.5 570.8L167.1 566.2L157.0 559.8Z"/>
<path d="M139.8 568.9L149.9 575.4L158.5 570.8L148.4 564.4Z"/>
<path d="M131.1 573.5L141.2 580.0L149.9 575.4L139.8 568.9Z"/>
<path d="M122.3 578.1L132.4 584.7L141.2 580.0L131.1 573.5Z"/>
<path d="M333.7 477.4L344.1 482.9L351.4 479.0L341.1 473.5Z"/>
<path d="M326.3 481.3L336.7 486.9L344.1 482.9L333.7 477.4Z"/>
<path d="M318.9 485.3L329.2 490.9L336.7 486.9L326.3 481.3Z"/>
<path d="M311.4 489.3L321.7 495.0L329.2 490.9L318.9 485.3Z"/>
<path d="M303.9 493.3L314.2 499.0L321.7 495.0L311.4 489.3Z"/>
<path d="M296.3 497.4L306.6 503.1L314.2 499.0L303.9 493.3Z"/>
<path d="M288.6 501.4L298.9 507.2L306.6 503.1L296.3 497.4Z"/>
<path d="M280.9 505.6L291.2 511.4L298.9 507.2L288.6 501.4Z"/>
<path d="M273.1 509.7L283.4 515.6L291.2 511.4L280.9 505.6Z"/>
<path d="M265.3 513.9L275.4 504.1L283.4 515.6L273.1 509.7Z"/>
<path d="M257.5 518.1L266.9 476.4L275.4 504.1L265.3 513.9Z"/>
<path d="M249.5 522.3L258.2 450.4L266.9 476.4L257.5 518.1Z"/>
<path d="M241.5 526.5L249.9 452.0L258.2 450.4L249.5 522.3Z"/>
<path d="M233.5 530.8L241.6 456.2L249.9 452.0L241.5 526.5Z"/>
<path d="M225.4 535.1L234.0 485.1L241.6 456.2L233.5 530.8Z"/>
<path d="M217.3 539.5L226.6 517.8L234.0 485.1L225.4 535.1Z"/>
<path d="M209.1 543.8L219.0 542.1L226.6 517.8L217.3 539.5Z"/>
<path d="M200.8 548.3L211.0 554.5L219.0 542.1L209.1 543.8Z"/>
<path d="M192.5 552.7L202.7 559.0L211.0 554.5L200.8 548.3Z"/>
<path d="M184.1 557.2L194.3 563.5L202.7 559.0L192.5 552.7Z"/>
<path d="M175.6 561.7L185.8 568.1L194.3 563.5L184.1 557.2Z"/>
<path d="M167.1 566.2L177.3 572.7L185.8 568.1L175.6 561.7Z"/>
<path d="M158.5 570.8L168.7 577.3L177.3 572.7L167.1 566.2Z"/>
<path d="M149.9 575.4L160.1 581.9L168.7 577.3L158.5 570.8Z"/>
<path d="M141.2 580.0L151.4 586.6L160.1 581.9L149.9 575.4Z"/>
<path d="M132.4 584.7L142.6 591.3L151.4 586.6L141.2 580.0Z"/>
<path d="M344.1 482.9L354.5 488.5L361.8 484.5L351.4 479.0Z"/>
<path d="M336.7 486.9L347.1 492.5L354.5 488.5L344.1 482.9Z"/>
<path d="M329.2 490.9L339.6 496.6L347.1 492.5L336.7 486.9Z"/>
<path d="M321.7 495.0L332.1 500.7L339.6 496.6L329.2 490.9Z"/>
<path d="M314.2 499.0L324.6 504.8L332.1 500.7L321.7 495.0Z"/>
<path d="M306.6 503.1L317.0 508.9L324.6 504.8L314.2 499.0Z"/>
<path d="M298.9 507.2L309.3 513.1L317.0 508.9L306.6 503.1Z"/>
<path d="M291.2 511.4L301.6 517.3L309.3 513.1L298.9 507.2Z"/>
<path d="M283.4 515.6L293.8 521.5L301.6 517.3L291.2 511.4Z"/>
<path d="M275.4 504.1L285.8 510.0L293.8 521.5L283.4 515.6Z"/>
<path d="M266.9 476.4L277.5 482.3L285.8 510.0L275.4 504.1Z"/>
<path d="M258.2 450.4L268.9 456.2L277.5 482.3L266.9 476.4Z"/>
<path d="M249.9 452.0L260.6 457.9L268.9 456.2L258.2 450.4Z"/>
<path d="M241.6 456.2L252.3 462.1L260.6 457.9L249.9 452.0Z"/>
<path d="M234.0 485.1L244.6 491.1L252.3 462.1L241.6 456.2Z"/>
<path d="M226.6 517.8L237.1 523.9L244.6 491.1L234.0 485.1Z"/>
<path d="M219.0 542.1L229.4 548.4L237.1 523.9L226.6 517.8Z"/>
<path d="M211.0 554.5L221.4 560.8L229.4 548.4L219.0 542.1Z"/>
<path d="M202.7 559.0L213.1 565.4L221.4 560.8L211.0 554.5Z"/>
<path d="M194.3 563.5L204.7 569.9L213.1 565.4L202.7 559.0Z"/>
<path d="M185.8 568.1L196.2 574.5L204.7 569.9L194.3 563.5Z"/>
<path d="M177.3 572.7L187.7 579.2L196.2 574.5L185.8 568.1Z"/>
<path d="M168.7 577.3L179.1 583.8L187.7 579.2L177.3 572.7Z"/>
<path d="M160.1 581.9L170.4 588.5L179.1 583.8L168.7 577.3Z"/>
<path d="M151.4 586.6L161.7 593.3L170.4 588.5L160.1 581.9Z"/>
<path d="M142.6 591.3L152.9 598.1L161.7 593.3L151.4 586.6Z"/>
<path d="M354.5 488.5L365.0 494.2L372.4 490.1L361.8 484.5Z"/>
<path d="M347.1 492.5L357.6 498.2L365.0 494.2L354.5 488.5Z"/>
<path d="M339.6 496.6L350.2 502.3L357.6 498.2L347.1 492.5Z"/>
<path d="M332.1 500.7L342.7 506.4L350.2 502.3L339.6 496.6Z"/>
<path d="M324.6 504.8L335.1 510.6L342.7 506.4L332.1 500.7Z"/>
<path d="M317.0 508.9L327.5 514.8L335.1 510.6L324.6 504.8Z"/>
<path d="M309.3 513.1L319.9 519.0L327.5 514.8L317.0 508.9Z"/>
<path d="M301.6 517.3L312.1 523.2L319.9 519.0L309.3 513.1Z"/>
<path d="M293.8 521.5L304.3 511.3L312.1 523.2L301.6 517.3Z"/>
<path d="M285.8 510.0L296.2 490.8L304.3 511.3L293.8 521.5Z"/>
<path d="M277.5 482.3L287.8 459.7L296.2 490.8L285.8 510.0Z"/>
<path d="M268.9 456.2L279.6 457.1L287.8 459.7L277.5 482.3Z"/>
<path d="M260.6 457.9L271.3 461.3L279.6 457.1L268.9 456.2Z"/>
<path d="M252.3 462.1L263.0 465.5L271.3 461.3L260.6 457.9Z"/>
<path d="M244.6 491.1L254.8 476.7L263.0 465.5L252.3 462.1Z"/>
<path d="M237.1 523.9L247.1 508.3L254.8 476.7L244.6 491.1Z"/>
<path d="M229.4 548.4L239.6 542.1L247.1 508.3L237.1 523.9Z"/>
<path d="M221.4 560.8L231.9 567.2L239.6 542.1L229.4 548.4Z"/>
<path d="M213.1 565.4L223.5 571.8L231.9 567.2L221.4 560.8Z"/>
<path d="M204.7 569.9L215.1 576.4L223.5 571.8L213.1 565.4Z"/>
<path d="M196.2 574.5L206.6 581.1L215.1 576.4L204.7 569.9Z"/>
<path d="M187.7 579.2L198.1 585.8L206.6 581.1L196.2 574.5Z"/>
<path d="M179.1 583.8L189.5 590.5L198.1 585.8L187.7 579.2Z"/>
<path d="M170.4 588.5L180.8 595.2L189.5 590.5L179.1 583.8Z"/>
<path d="M161.7 593.3L172.1 600.0L180.8 595.2L170.4 588.5Z"/>
<path d="M152.9 598.1L163.3 604.9L172.1 600.0L161.7 593.3Z"/>
<path d="M365.0 494.2L375.7 499.9L383.0 495.8L372.4 490.1Z"/>
<path d="M357.6 498.2L368.3 504.0L375.7 499.9L365.0 494.2Z"/>
<path d="M350.2 502.3L360.8 508.1L368.3 504.0L357.6 498.2Z"/>
<path d="M342.7 506.4L353.3 512.3L360.8 508.1L350.2 502.3Z"/>
<path d="M335.1 510.6L345.8 516.5L353.3 512.3L342.7 506.4Z"/>
<path d="M327.5 514.8L338.2 520.7L345.8 516.5L335.1 510.6Z"/>
<path d="M319.9 519.0L330.5 524.9L338.2 520.7L327.5 514.8Z"/>
<path d="M312.1 523.2L322.8 529.2L330.5 524.9L319.9 519.0Z"/>
<path d="M304.3 511.3L315.0 517.3L322.8 529.2L312.1 523.2Z"/>
<path d="M296.2 490.8L307.0 496.8L315.0 517.3L304.3 511.3Z"/>
<path d="M287.8 459.7L298.7 465.6L307.0 496.8L296.2 490.8Z"/>
<path d="M279.6 457.1L290.5 463.0L298.7 465.6L287.8 459.7Z"/>
<path d="M271.3 461.3L282.3 467.2L290.5 463.0L279.6 457.1Z"/>
<path d="M263.0 465.5L274.0 471.5L282.3 467.2L271.3 461.3Z"/>
<path d="M254.8 476.7L265.7 482.7L274.0 471.5L263.0 465.5Z"/>
<path d="M247.1 508.3L257.9 514.5L265.7 482.7L254.8 476.7Z"/>
<path d="M239.6 542.1L250.3 548.4L257.9 514.5L247.1 508.3Z"/>
<path d="M231.9 567.2L242.5 573.7L250.3 548.4L239.6 542.1Z"/>
<path d="M223.5 571.8L234.1 578.3L242.5 573.7L231.9 567.2Z"/>
<path d="M215.1 576.4L225.7 583.0L234.1 578.3L223.5 571.8Z"/>
<path d="M206.6 581.1L217.2 587.7L225.7 583.0L215.1 576.4Z"/>
<path d="M198.1 585.8L208.7 592.4L217.2 587.7L206.6 581.1Z"/>
<path d="M189.5 590.5L200.1 597.2L208.7 592.4L198.1 585.8Z"/>
<path d="M180.8 595.2L191.4 602.0L200.1 597.2L189.5 590.5Z"/>
<path d="M172.1 600.0L182.6 606.8L191.4 602.0L180.8 595.2Z"/>
<path d="M163.3 604.9L173.8 611.7L182.6 606.8L172.1 600.0Z"/>
<path d="M375.7 499.9L386.4 505.6L393.8 501.5L383.0 495.8Z"/>
<path d="M368.3 504.0L379.0 509.8L386.4 505.6L375.7 499.9Z"/>
<path d="M360.8 508.1L371.6 514.0L379.0 509.8L368.3 504.0Z"/>
<path d="M353.3 512.3L364.1 518.2L371.6 514.0L360.8 508.1Z"/>
<path d="M345.8 516.5L356.5 522.4L364.1 518.2L353.3 512.3Z"/>
<path d="M338.2 520.7L348.9 526.6L356.5 522.4L345.8 516.5Z"/>
<path d="M330.5 524.9L341.2 530.9L348.9 526.6L338.2 520.7Z"/>
<path d="M322.8 529.2L333.5 535.3L341.2 530.9L330.5 524.9Z"/>
<path d="M315.0 517.3L325.7 539.6L333.5 535.3L322.8 529.2Z"/>
<path d="M307.0 496.8L317.9 544.0L325.7 539.6L315.0 517.3Z"/>
<path d="M298.7 465.6L310.0 548.4L317.9 544.0L307.0 496.8Z"/>
<path d="M290.5 463.0L302.1 552.9L310.0 548.4L298.7 465.6Z"/>
<path d="M282.3 467.2L294.1 557.3L302.1 552.9L290.5 463.0Z"/>
<path d="M274.0 471.5L286.0 561.8L294.1 557.3L282.3 467.2Z"/>
<path d="M265.7 482.7L277.9 566.4L286.0 561.8L274.0 471.5Z"/>
<path d="M257.9 514.5L269.3 547.1L277.9 566.4L265.7 482.7Z"/>
<path d="M250.3 548.4L260.3 519.1L269.3 547.1L257.9 514.5Z"/>
<path d="M242.5 573.7L251.2 498.6L260.3 519.1L250.3 548.4Z"/>
<path d="M234.1 578.3L242.6 503.1L251.2 498.6L242.5 573.7Z"/>
<path d="M225.7 583.0L234.3 520.3L242.6 503.1L234.1 578.3Z"/>
<path d="M217.2 587.7L226.6 553.9L234.3 520.3L225.7 583.0Z"/>
<path d="M208.7 592.4L218.8 583.9L226.6 553.9L217.2 587.7Z"/>
<path d="M200.1 597.2L210.7 604.0L218.8 583.9L208.7 592.4Z"/>
<path d="M191.4 602.0L202.0 608.8L210.7 604.0L200.1 597.2Z"/>
<path d="M182.6 606.8L193.3 613.7L202.0 608.8L191.4 602.0Z"/>
<path d="M173.8 611.7L184.5 618.7L193.3 613.7L182.6 606.8Z"/>
<path d="M386.4 505.6L397.3 511.5L404.6 507.3L393.8 501.5Z"/>
<path d="M379.0 509.8L389.9 515.7L397.3 511.5L386.4 505.6Z"/>
<path d="M371.6 514.0L382.4 519.9L389.9 515.7L379.0 509.8Z"/>
<path d="M364.1 518.2L374.9 524.1L382.4 519.9L371.6 514.0Z"/>
<path d="M356.5 522.4L367.4 528.4L374.9 524.1L364.1 518.2Z"/>
<path d="M348.9 526.6L359.8 532.7L367.4 528.4L356.5 522.4Z"/>
<path d="M341.2 530.9L352.1 537.0L359.8 532.7L348.9 526.6Z"/>
<path d="M333.5 535.3L344.4 541.4L352.1 537.0L341.2 530.9Z"/>
<path d="M325.7 539.6L336.6 545.8L344.4 541.4L333.5 535.3Z"/>
<path d="M317.9 544.0L328.8 550.2L336.6 545.8L325.7 539.6Z"/>
<path d="M310.0 548.4L320.9 554.7L328.8 550.2L317.9 544.0Z"/>
<path d="M302.1 552.9L312.9 559.2L320.9 554.7L310.0 548.4Z"/>
<path d="M294.1 557.3L304.9 563.7L312.9 559.2L302.1 552.9Z"/>
<path d="M286.0 561.8L296.9 568.2L304.9 563.7L294.1 557.3Z"/>
<path d="M277.9 566.4L288.7 572.8L296.9 568.2L286.0 561.8Z"/>
<path d="M269.3 547.1L280.2 553.5L288.7 572.8L277.9 566.4Z"/>
<path d="M260.3 519.1L271.3 525.4L280.2 553.5L269.3 547.1Z"/>
<path d="M251.2 498.6L262.4 505.0L271.3 525.4L260.3 519.1Z"/>
<path d="M242.6 503.1L253.7 509.5L262.4 505.0L251.2 498.6Z"/>
<path d="M234.3 520.3L245.4 526.7L253.7 509.5L242.6 503.1Z"/>
<path d="M226.6 553.9L237.5 560.5L245.4 526.7L234.3 520.3Z"/>
<path d="M218.8 583.9L229.7 590.6L237.5 560.5L226.6 553.9Z"/>
<path d="M210.7 604.0L221.5 610.8L229.7 590.6L218.8 583.9Z"/>
<path d="M202.0 608.8L212.8 615.7L221.5 610.8L210.7 604.0Z"/>
<path d="M193.3 613.7L204.1 620.7L212.8 615.7L202.0 608.8Z"/>
<path d="M184.5 618.7L195.3 625.7L204.1 620.7L193.3 613.7Z"/>
<path d="M397.3 511.5L408.3 517.4L415.6 513.2L404.6 507.3Z"/>
<path d="M389.9 515.7L400.9 521.6L408.3 517.4L397.3 511.5Z"/>
<path d="M382.4 519.9L393.4 525.8L400.9 521.6L389.9 515.7Z"/>
<path d="M374.9 524.1L385.9 530.1L393.4 525.8L382.4 519.9Z"/>
<path d="M367.4 528.4L378.3 534.4L385.9 530.1L374.9 524.1Z"/>
<path d="M359.8 532.7L370.7 538.8L378.3 534.4L367.4 528.4Z"/>
<path d="M352.1 537.0L363.1 543.2L370.7 538.8L359.8 532.7Z"/>
<path d="M344.4 541.4L355.3 547.6L363.1 543.2L352.1 537.0Z"/>
<path d="M336.6 545.8L347.7 538.0L355.3 547.6L344.4 541.4Z"/>
<path d="M328.8 550.2L340.0 516.4L347.7 538.0L336.6 545.8Z"/>
<path d="M320.9 554.7L332.1 489.0L340.0 516.4L328.8 550.2Z"/>
<path d="M312.9 559.2L324.0 480.2L332.1 489.0L320.9 554.7Z"/>
<path d="M304.9 563.7L315.8 484.6L324.0 480.2L312.9 559.2Z"/>
<path d="M296.9 568.2L307.4 489.1L315.8 484.6L304.9 563.7Z"/>
<path d="M288.7 572.8L299.1 493.5L307.4 489.1L296.9 568.2Z"/>
<path d="M280.2 553.5L290.6 498.0L299.1 493.5L288.7 572.8Z"/>
<path d="M271.3 525.4L282.6 537.6L290.6 498.0L280.2 553.5Z"/>
<path d="M262.4 505.0L274.7 578.3L282.6 537.6L271.3 525.4Z"/>
<path d="M253.7 509.5L266.6 598.3L274.7 578.3L262.4 505.0Z"/>
<path d="M245.4 526.7L258.1 603.1L266.6 598.3L253.7 509.5Z"/>
<path d="M237.5 560.5L249.6 607.9L258.1 603.1L245.4 526.7Z"/>
<path d="M229.7 590.6L241.1 612.8L249.6 607.9L237.5 560.5Z"/>
<path d="M221.5 610.8L232.4 617.8L241.1 612.8L229.7 590.6Z"/>
<path d="M212.8 615.7L223.7 622.7L232.4 617.8L221.5 610.8Z"/>
<path d="M204.1 620.7L215.0 627.7L223.7 622.7L212.8 615.7Z"/>
<path d="M195.3 625.7L206.1 632.8L215.0 627.7L204.1 620.7Z"/>
<path d="M408.3 517.4L419.3 523.3L426.7 519.1L415.6 513.2Z"/>
<path d="M400.9 521.6L411.9 527.6L419.3 523.3L408.3 517.4Z"/>
<path d="M393.4 525.8L404.5 531.9L411.9 527.6L400.9 521.6Z"/>
<path d="M385.9 530.1L397.0 536.2L404.5 531.9L393.4 525.8Z"/>
<path d="M378.3 534.4L389.4 540.6L397.0 536.2L385.9 530.1Z"/>
<path d="M370.7 538.8L381.8 545.0L389.4 540.6L378.3 534.4Z"/>
<path d="M363.1 543.2L374.2 549.4L381.8 545.0L370.7 538.8Z"/>
<path d="M355.3 547.6L366.4 553.8L374.2 549.4L363.1 543.2Z"/>
<path d="M347.7 538.0L358.8 544.2L366.4 553.8L355.3 547.6Z"/>
<path d="M340.0 516.4L351.3 522.6L358.8 544.2L347.7 538.0Z"/>
<path d="M332.1 489.0L343.5 495.1L351.3 522.6L340.0 516.4Z"/>
<path d="M324.0 480.2L335.4 486.4L343.5 495.1L332.1 489.0Z"/>
<path d="M315.8 484.6L327.2 490.8L335.4 486.4L324.0 480.2Z"/>
<path d="M307.4 489.1L318.9 495.3L327.2 490.8L315.8 484.6Z"/>
<path d="M299.1 493.5L310.5 499.8L318.9 495.3L307.4 489.1Z"/>
<path d="M290.6 498.0L302.0 504.4L310.5 499.8L299.1 493.5Z"/>
<path d="M282.6 537.6L293.8 544.2L302.0 504.4L290.6 498.0Z"/>
<path d="M274.7 578.3L285.8 585.0L293.8 544.2L282.6 537.6Z"/>
<path d="M266.6 598.3L277.6 605.1L285.8 585.0L274.7 578.3Z"/>
<path d="M258.1 603.1L269.2 609.9L277.6 605.1L266.6 598.3Z"/>
<path d="M249.6 607.9L260.7 614.9L269.2 609.9L258.1 603.1Z"/>
<path d="M241.1 612.8L252.1 619.8L260.7 614.9L249.6 607.9Z"/>
<path d="M232.4 617.8L243.5 624.8L252.1 619.8L241.1 612.8Z"/>
<path d="M223.7 622.7L234.8 629.8L243.5 624.8L232.4 617.8Z"/>
<path d="M215.0 627.7L226.0 634.9L234.8 629.8L223.7 622.7Z"/>
<path d="M206.1 632.8L217.2 640.0L226.0 634.9L215.0 627.7Z"/>
<path d="M419.3 523.3L430.6 529.3L437.9 525.0L426.7 519.1Z"/>
<path d="M411.9 527.6L423.2 533.6L430.6 529.3L419.3 523.3Z"/>
<path d="M404.5 531.9L415.7 538.0L423.2 533.6L411.9 527.6Z"/>
<path d="M397.0 536.2L408.2 542.3L415.7 538.0L404.5 531.9Z"/>
<path d="M389.4 540.6L400.6 546.8L408.2 542.3L397.0 536.2Z"/>
<path d="M381.8 545.0L393.0 551.2L400.6 546.8L389.4 540.6Z"/>
<path d="M374.2 549.4L385.4 555.7L393.0 551.2L381.8 545.0Z"/>
<path d="M366.4 553.8L377.6 560.2L385.4 555.7L374.2 549.4Z"/>
<path d="M358.8 544.2L369.9 564.7L377.6 560.2L366.4 553.8Z"/>
<path d="M351.3 522.6L362.0 569.3L369.9 564.7L358.8 544.2Z"/>
<path d="M343.5 495.1L354.1 573.9L362.0 569.3L351.3 522.6Z"/>
<path d="M335.4 486.4L346.2 578.5L354.1 573.9L343.5 495.1Z"/>
<path d="M327.2 490.8L338.2 583.2L346.2 578.5L335.4 486.4Z"/>
<path d="M318.9 495.3L330.1 587.9L338.2 583.2L327.2 490.8Z"/>
<path d="M310.5 499.8L322.0 592.6L330.1 587.9L318.9 495.3Z"/>
<path d="M302.0 504.4L313.8 597.4L322.0 592.6L310.5 499.8Z"/>
<path d="M293.8 544.2L305.4 577.7L313.8 597.4L302.0 504.4Z"/>
<path d="M285.8 585.0L296.7 549.1L305.4 577.7L293.8 544.2Z"/>
<path d="M277.6 605.1L287.9 528.2L296.7 549.1L285.8 585.0Z"/>
<path d="M269.2 609.9L279.2 533.0L287.9 528.2L277.6 605.1Z"/>
<path d="M260.7 614.9L270.4 537.8L279.2 533.0L269.2 609.9Z"/>
<path d="M252.1 619.8L261.5 542.6L270.4 537.8L260.7 614.9Z"/>
<path d="M243.5 624.8L253.2 569.9L261.5 542.6L252.1 619.8Z"/>
<path d="M234.8 629.8L244.9 599.5L253.2 569.9L243.5 624.8Z"/>
<path d="M226.0 634.9L236.9 635.5L244.9 599.5L234.8 629.8Z"/>
<path d="M217.2 640.0L228.3 647.2L236.9 635.5L226.0 634.9Z"/>
<path d="M430.6 529.3L441.9 535.4L449.2 531.1L437.9 525.0Z"/>
<path d="M423.2 533.6L434.5 539.7L441.9 535.4L430.6 529.3Z"/>
<path d="M415.7 538.0L427.0 544.1L434.5 539.7L423.2 533.6Z"/>
<path d="M408.2 542.3L419.5 548.6L427.0 544.1L415.7 538.0Z"/>
<path d="M400.6 546.8L412.4 538.8L419.5 548.6L408.2 542.3Z"/>
<path d="M393.0 551.2L405.6 516.9L412.4 538.8L400.6 546.8Z"/>
<path d="M385.4 555.7L398.7 489.2L405.6 516.9L393.0 551.2Z"/>
<path d="M377.6 560.2L391.1 480.3L398.7 489.2L385.4 555.7Z"/>
<path d="M369.9 564.7L383.1 484.7L391.1 480.3L377.6 560.2Z"/>
<path d="M362.0 569.3L374.7 502.5L383.1 484.7L369.9 564.7Z"/>
<path d="M354.1 573.9L366.1 539.4L374.7 502.5L362.0 569.3Z"/>
<path d="M346.2 578.5L357.7 570.7L366.1 539.4L354.1 573.9Z"/>
<path d="M338.2 583.2L349.5 589.8L357.7 570.7L346.2 578.5Z"/>
<path d="M330.1 587.9L341.4 594.6L349.5 589.8L338.2 583.2Z"/>
<path d="M322.0 592.6L333.3 599.4L341.4 594.6L330.1 587.9Z"/>
<path d="M313.8 597.4L325.1 604.2L333.3 599.4L322.0 592.6Z"/>
<path d="M305.4 577.7L316.8 584.5L325.1 604.2L313.8 597.4Z"/>
<path d="M296.7 549.1L308.3 555.8L316.8 584.5L305.4 577.7Z"/>
<path d="M287.9 528.2L299.5 534.9L308.3 555.8L296.7 549.1Z"/>
<path d="M279.2 533.0L290.8 539.7L299.5 534.9L287.9 528.2Z"/>
<path d="M270.4 537.8L282.0 544.6L290.8 539.7L279.2 533.0Z"/>
<path d="M261.5 542.6L273.2 549.4L282.0 544.6L270.4 537.8Z"/>
<path d="M253.2 569.9L264.7 576.9L273.2 549.4L261.5 542.6Z"/>
<path d="M244.9 599.5L256.3 606.6L264.7 576.9L253.2 569.9Z"/>
<path d="M236.9 635.5L248.2 642.7L256.3 606.6L244.9 599.5Z"/>
<path d="M228.3 647.2L239.6 654.6L248.2 642.7L236.9 635.5Z"/>
<path d="M441.9 535.4L453.3 541.5L460.7 537.2L449.2 531.1Z"/>
<path d="M434.5 539.7L445.9 545.9L453.3 541.5L441.9 535.4Z"/>
<path d="M427.0 544.1L438.5 550.4L445.9 545.9L434.5 539.7Z"/>
<path d="M419.5 548.6L431.0 554.8L438.5 550.4L427.0 544.1Z"/>
<path d="M412.4 538.8L423.9 545.1L431.0 554.8L419.5 548.6Z"/>
<path d="M405.6 516.9L417.2 523.2L423.9 545.1L412.4 538.8Z"/>
<path d="M398.7 489.2L410.4 495.4L417.2 523.2L405.6 516.9Z"/>
<path d="M391.1 480.3L402.9 486.5L410.4 495.4L398.7 489.2Z"/>
<path d="M383.1 484.7L394.9 490.9L402.9 486.5L391.1 480.3Z"/>
<path d="M374.7 502.5L386.5 508.8L394.9 490.9L383.1 484.7Z"/>
<path d="M366.1 539.4L377.7 545.9L386.5 508.8L374.7 502.5Z"/>
<path d="M357.7 570.7L370.2 520.1L377.7 545.9L366.1 539.4Z"/>
<path d="M349.5 589.8L362.2 511.6L370.2 520.1L357.7 570.7Z"/>
<path d="M341.4 594.6L353.9 516.3L362.2 511.6L349.5 589.8Z"/>
<path d="M333.3 599.4L345.5 520.9L353.9 516.3L341.4 594.6Z"/>
<path d="M325.1 604.2L337.0 525.6L345.5 520.9L333.3 599.4Z"/>
<path d="M316.8 584.5L328.4 578.1L337.0 525.6L325.1 604.2Z"/>
<path d="M308.3 555.8L319.9 594.6L328.4 578.1L316.8 584.5Z"/>
<path d="M299.5 534.9L311.4 572.6L319.9 594.6L308.3 555.8Z"/>
<path d="M290.8 539.7L302.8 577.5L311.4 572.6L299.5 534.9Z"/>
<path d="M282.0 544.6L294.1 582.5L302.8 577.5L290.8 539.7Z"/>
<path d="M273.2 549.4L285.5 604.9L294.1 582.5L282.0 544.6Z"/>
<path d="M264.7 576.9L277.3 646.3L285.5 604.9L273.2 549.4Z"/>
<path d="M256.3 606.6L268.6 651.5L277.3 646.3L264.7 576.9Z"/>
<path d="M248.2 642.7L259.8 656.7L268.6 651.5L256.3 606.6Z"/>
<path d="M239.6 654.6L251.0 662.0L259.8 656.7L248.2 642.7Z"/>
<path d="M453.3 541.5L464.9 547.7L472.2 543.3L460.7 537.2Z"/>
<path d="M445.9 545.9L457.5 552.2L464.9 547.7L453.3 541.5Z"/>
<path d="M438.5 550.4L450.0 556.7L457.5 552.2L445.9 545.9Z"/>
<path d="M431.0 554.8L443.2 546.9L450.0 556.7L438.5 550.4Z"/>
<path d="M423.9 545.1L436.7 525.0L443.2 546.9L431.0 554.8Z"/>
<path d="M417.2 523.2L430.2 497.2L436.7 525.0L423.9 545.1Z"/>
<path d="M410.4 495.4L422.8 488.3L430.2 497.2L417.2 523.2Z"/>
<path d="M402.9 486.5L414.8 492.7L422.8 488.3L410.4 495.4Z"/>
<path d="M394.9 490.9L406.4 510.6L414.8 492.7L402.9 486.5Z"/>
<path d="M386.5 508.8L397.5 547.8L406.4 510.6L394.9 490.9Z"/>
<path d="M377.7 545.9L389.5 553.6L397.5 547.8L386.5 508.8Z"/>
<path d="M370.2 520.1L382.1 526.6L389.5 553.6L377.7 545.9Z"/>
<path d="M362.2 511.6L374.1 518.2L382.1 526.6L370.2 520.1Z"/>
<path d="M353.9 516.3L365.8 522.8L374.1 518.2L362.2 511.6Z"/>
<path d="M345.5 520.9L357.4 527.5L365.8 522.8L353.9 516.3Z"/>
<path d="M337.0 525.6L349.0 532.3L357.4 527.5L345.5 520.9Z"/>
<path d="M328.4 578.1L340.1 585.0L349.0 532.3L337.0 525.6Z"/>
<path d="M319.9 594.6L331.5 616.5L340.1 585.0L328.4 578.1Z"/>
<path d="M311.4 572.6L323.1 609.9L331.5 616.5L319.9 594.6Z"/>
<path d="M302.8 577.5L314.6 614.9L323.1 609.9L311.4 572.6Z"/>
<path d="M294.1 582.5L306.0 620.0L314.6 614.9L302.8 577.5Z"/>
<path d="M285.5 604.9L297.4 634.5L306.0 620.0L294.1 582.5Z"/>
<path d="M277.3 646.3L288.9 653.6L297.4 634.5L285.5 604.9Z"/>
<path d="M268.6 651.5L280.2 658.9L288.9 653.6L277.3 646.3Z"/>
<path d="M259.8 656.7L271.4 664.2L280.2 658.9L268.6 651.5Z"/>
<path d="M251.0 662.0L262.5 669.5L271.4 664.2L259.8 656.7Z"/>
<path d="M464.9 547.7L476.6 554.0L483.9 549.5L472.2 543.3Z"/>
<path d="M457.5 552.2L469.2 558.5L476.6 554.0L464.9 547.7Z"/>
<path d="M450.0 556.7L461.7 563.0L469.2 558.5L457.5 552.2Z"/>
<path d="M443.2 546.9L454.9 553.3L461.7 563.0L450.0 556.7Z"/>
<path d="M436.7 525.0L448.5 531.3L454.9 553.3L443.2 546.9Z"/>
<path d="M430.2 497.2L442.2 503.4L448.5 531.3L436.7 525.0Z"/>
<path d="M422.8 488.3L434.9 494.6L442.2 503.4L430.2 497.2Z"/>
<path d="M414.8 492.7L426.9 499.1L434.9 494.6L422.8 488.3Z"/>
<path d="M406.4 510.6L418.5 517.0L426.9 499.1L414.8 492.7Z"/>
<path d="M397.5 547.8L409.4 554.3L418.5 517.0L406.4 510.6Z"/>
<path d="M389.5 553.6L401.3 560.7L409.4 554.3L397.5 547.8Z"/>
<path d="M382.1 526.6L394.1 533.9L401.3 560.7L389.5 553.6Z"/>
<path d="M374.1 518.2L386.2 525.6L394.1 533.9L382.1 526.6Z"/>
<path d="M365.8 522.8L377.8 530.3L386.2 525.6L374.1 518.2Z"/>
<path d="M357.4 527.5L369.5 535.1L377.8 530.3L365.8 522.8Z"/>
<path d="M349.0 532.3L360.5 574.6L369.5 535.1L357.4 527.5Z"/>
<path d="M340.1 585.0L351.7 615.1L360.5 574.6L349.0 532.3Z"/>
<path d="M331.5 616.5L343.2 635.1L351.7 615.1L340.1 585.0Z"/>
<path d="M323.1 609.9L334.8 640.2L343.2 635.1L331.5 616.5Z"/>
<path d="M314.6 614.9L326.3 645.4L334.8 640.2L323.1 609.9Z"/>
<path d="M306.0 620.0L317.8 650.6L326.3 645.4L314.6 614.9Z"/>
<path d="M297.4 634.5L309.2 655.8L317.8 650.6L306.0 620.0Z"/>
<path d="M288.9 653.6L300.6 661.1L309.2 655.8L297.4 634.5Z"/>
<path d="M280.2 658.9L291.8 666.4L300.6 661.1L288.9 653.6Z"/>
<path d="M271.4 664.2L283.0 671.7L291.8 666.4L280.2 658.9Z"/>
<path d="M262.5 669.5L274.2 677.1L283.0 671.7L271.4 664.2Z"/>
<path d="M476.6 554.0L488.4 560.3L495.7 555.8L483.9 549.5Z"/>
<path d="M469.2 558.5L481.0 564.9L488.4 560.3L476.6 554.0Z"/>
<path d="M461.7 563.0L473.6 569.4L481.0 564.9L469.2 558.5Z"/>
<path d="M454.9 553.3L466.1 574.1L473.6 569.4L461.7 563.0Z"/>
<path d="M448.5 531.3L458.5 578.7L466.1 574.1L454.9 553.3Z"/>
<path d="M442.2 503.4L450.9 583.4L458.5 578.7L448.5 531.3Z"/>
<path d="M434.9 494.6L443.2 588.1L450.9 583.4L442.2 503.4Z"/>
<path d="M426.9 499.1L435.5 592.8L443.2 588.1L434.9 494.6Z"/>
<path d="M418.5 517.0L427.7 597.6L435.5 592.8L426.9 499.1Z"/>
<path d="M409.4 554.3L420.4 588.5L427.7 597.6L418.5 517.0Z"/>
<path d="M401.3 560.7L413.3 567.4L420.4 588.5L409.4 554.3Z"/>
<path d="M394.1 533.9L406.2 540.5L413.3 567.4L401.3 560.7Z"/>
<path d="M386.2 525.6L398.4 532.3L406.2 540.5L394.1 533.9Z"/>
<path d="M377.8 530.3L390.1 537.0L398.4 532.3L386.2 525.6Z"/>
<path d="M369.5 535.1L381.7 541.9L390.1 537.0L377.8 530.3Z"/>
<path d="M360.5 574.6L372.6 581.5L381.7 541.9L369.5 535.1Z"/>
<path d="M351.7 615.1L363.6 622.2L372.6 581.5L360.5 574.6Z"/>
<path d="M343.2 635.1L355.0 642.4L363.6 622.2L351.7 615.1Z"/>
<path d="M334.8 640.2L346.6 647.5L355.0 642.4L343.2 635.1Z"/>
<path d="M326.3 645.4L338.2 652.7L346.6 647.5L334.8 640.2Z"/>
<path d="M317.8 650.6L329.6 658.0L338.2 652.7L326.3 645.4Z"/>
<path d="M309.2 655.8L321.0 663.3L329.6 658.0L317.8 650.6Z"/>
<path d="M300.6 661.1L312.4 668.6L321.0 663.3L309.2 655.8Z"/>
<path d="M291.8 666.4L303.6 674.0L312.4 668.6L300.6 661.1Z"/>
<path d="M283.0 671.7L294.8 679.4L303.6 674.0L291.8 666.4Z"/>
<path d="M274.2 677.1L286.0 684.8L294.8 679.4L283.0 671.7Z"/>
<path d="M488.4 560.3L500.3 566.7L507.6 562.2L495.7 555.8Z"/>
<path d="M481.0 564.9L492.9 571.3L500.3 566.7L488.4 560.3Z"/>
<path d="M473.6 569.4L485.5 575.9L492.9 571.3L481.0 564.9Z"/>
<path d="M466.1 574.1L478.0 580.6L485.5 575.9L473.6 569.4Z"/>
<path d="M458.5 578.7L470.5 585.3L478.0 580.6L466.1 574.1Z"/>
<path d="M450.9 583.4L462.9 590.0L470.5 585.3L458.5 578.7Z"/>
<path d="M443.2 588.1L455.2 594.8L462.9 590.0L450.9 583.4Z"/>
<path d="M435.5 592.8L447.5 599.6L455.2 594.8L443.2 588.1Z"/>
<path d="M427.7 597.6L439.7 604.4L447.5 599.6L435.5 592.8Z"/>
<path d="M420.4 588.5L431.9 609.3L439.7 604.4L427.7 597.6Z"/>
<path d="M413.3 567.4L424.0 614.2L431.9 609.3L420.4 588.5Z"/>
<path d="M406.2 540.5L416.0 619.2L424.0 614.2L413.3 567.4Z"/>
<path d="M398.4 532.3L408.0 624.1L416.0 619.2L406.2 540.5Z"/>
<path d="M390.1 537.0L399.9 629.2L408.0 624.1L398.4 532.3Z"/>
<path d="M381.7 541.9L391.8 634.2L399.9 629.2L390.1 537.0Z"/>
<path d="M372.6 581.5L383.6 639.3L391.8 634.2L381.7 541.9Z"/>
<path d="M363.6 622.2L375.3 644.5L383.6 639.3L372.6 581.5Z"/>
<path d="M355.0 642.4L367.0 649.7L375.3 644.5L363.6 622.2Z"/>
<path d="M346.6 647.5L358.6 654.9L367.0 649.7L355.0 642.4Z"/>
<path d="M338.2 652.7L350.1 660.1L358.6 654.9L346.6 647.5Z"/>
<path d="M329.6 658.0L341.6 665.4L350.1 660.1L338.2 652.7Z"/>
<path d="M321.0 663.3L333.0 670.8L341.6 665.4L329.6 658.0Z"/>
<path d="M312.4 668.6L324.3 676.2L333.0 670.8L321.0 663.3Z"/>
<path d="M303.6 674.0L315.6 681.6L324.3 676.2L312.4 668.6Z"/>
<path d="M294.8 679.4L306.8 687.1L315.6 681.6L303.6 674.0Z"/>
<path d="M286.0 684.8L297.9 692.6L306.8 687.1L294.8 679.4Z"/>
<path d="M500.3 566.7L512.4 573.2L519.7 568.6L507.6 562.2Z"/>
<path d="M492.9 571.3L505.0 577.8L512.4 573.2L500.3 566.7Z"/>
<path d="M485.5 575.9L497.6 582.5L505.0 577.8L492.9 571.3Z"/>
<path d="M478.0 580.6L490.1 587.2L497.6 582.5L485.5 575.9Z"/>
<path d="M470.5 585.3L482.5 592.0L490.1 587.2L478.0 580.6Z"/>
<path d="M462.9 590.0L474.9 596.7L482.5 592.0L470.5 585.3Z"/>
<path d="M455.2 594.8L467.3 601.6L474.9 596.7L462.9 590.0Z"/>
<path d="M447.5 599.6L459.6 606.4L467.3 601.6L455.2 594.8Z"/>
<path d="M439.7 604.4L451.8 611.3L459.6 606.4L447.5 599.6Z"/>
<path d="M431.9 609.3L444.0 616.2L451.8 611.3L439.7 604.4Z"/>
<path d="M424.0 614.2L436.1 621.2L444.0 616.2L431.9 609.3Z"/>
<path d="M416.0 619.2L428.1 626.2L436.1 621.2L424.0 614.2Z"/>
<path d="M408.0 624.1L420.1 631.2L428.1 626.2L416.0 619.2Z"/>
<path d="M399.9 629.2L412.0 636.3L420.1 631.2L408.0 624.1Z"/>
<path d="M391.8 634.2L403.9 641.4L412.0 636.3L399.9 629.2Z"/>
<path d="M383.6 639.3L395.7 646.6L403.9 641.4L391.8 634.2Z"/>
<path d="M375.3 644.5L387.4 651.8L395.7 646.6L383.6 639.3Z"/>
<path d="M367.0 649.7L379.1 657.0L387.4 651.8L375.3 644.5Z"/>
<path d="M358.6 654.9L370.7 662.3L379.1 657.0L367.0 649.7Z"/>
<path d="M350.1 660.1L362.2 667.6L370.7 662.3L358.6 654.9Z"/>
<path d="M341.6 665.4L353.7 673.0L362.2 667.6L350.1 660.1Z"/>
<path d="M333.0 670.8L345.1 678.4L353.7 673.0L341.6 665.4Z"/>
<path d="M324.3 676.2L336.4 683.9L345.1 678.4L333.0 670.8Z"/>
<path d="M315.6 681.6L327.7 689.4L336.4 683.9L324.3 676.2Z"/>
<path d="M306.8 687.1L318.9 694.9L327.7 689.4L315.6 681.6Z"/>
<path d="M297.9 692.6L310.0 700.5L318.9 694.9L306.8 687.1Z"/>
</g>
<g stroke="#0a0a0a" stroke-width="1.6" fill="none">
<line x1="102.5" y1="565.2" x2="92.9" y2="440.8"/>
<line x1="102.5" y1="565.2" x2="95.7" y2="566.0"/>
<line x1="99.1" y1="521.2" x2="92.3" y2="522.0"/>
<line x1="95.9" y1="480.2" x2="89.1" y2="481.0"/>
<line x1="92.9" y1="440.8" x2="86.1" y2="441.6"/>
<line x1="152.9" y1="598.1" x2="145.4" y2="602.1"/>
<line x1="217.2" y1="640.0" x2="209.8" y2="644.2"/>
<line x1="286.0" y1="684.8" x2="278.7" y2="689.3"/>
<line x1="310.0" y1="700.5" x2="302.8" y2="705.0"/>
<line x1="310.0" y1="700.5" x2="317.1" y2="705.1"/>
<line x1="412.0" y1="636.3" x2="419.4" y2="640.6"/>
<line x1="519.7" y1="568.6" x2="527.2" y2="572.6"/>
</g>
<text x="306.0" y="31.0" text-anchor="middle" font-size="13.2" textLength="184.7" lengthAdjust="spacingAndGlyphs">Measured Electron Efficiencies</text>
<text x="306.3" y="45.6" text-anchor="middle" font-size="13.2" textLength="63.1" lengthAdjust="spacingAndGlyphs">Detector E</text>
<text x="433.9" y="86.7" text-anchor="start" font-size="13.2" textLength="40.9" lengthAdjust="spacingAndGlyphs">40 keV</text>
<text x="78.3" y="70.6" text-anchor="end" font-size="13.2" textLength="31.9" lengthAdjust="spacingAndGlyphs">150.0</text>
<text x="82.8" y="125.4" text-anchor="end" font-size="13.2" textLength="31.4" lengthAdjust="spacingAndGlyphs">100.0</text>
<text x="86.6" y="174.9" text-anchor="end" font-size="13.2" textLength="25.1" lengthAdjust="spacingAndGlyphs">50.0</text>
<text x="91.6" y="223.4" text-anchor="end" font-size="13.2" textLength="17.6" lengthAdjust="spacingAndGlyphs">0.0</text>
<text x="49.0" y="151.0" text-anchor="middle" font-size="13.2" transform="rotate(-90 49.0 151.0)" textLength="55.2" lengthAdjust="spacingAndGlyphs">Efficiency</text>
<text x="147.7" y="256.1" text-anchor="end" font-size="13.2" textLength="29.0" lengthAdjust="spacingAndGlyphs">10.0<tspan font-size="9.5" dy="-2.2">°</tspan></text>
<text x="165.2" y="276.0" text-anchor="start" font-size="13.2" textLength="21.6" lengthAdjust="spacingAndGlyphs">5.0<tspan font-size="9.5" dy="-2.2">°</tspan></text>
<text x="206.1" y="297.7" text-anchor="start" font-size="13.2" textLength="21.6" lengthAdjust="spacingAndGlyphs">0.0<tspan font-size="9.5" dy="-2.2">°</tspan></text>
<text x="160.9" y="315.7" text-anchor="start" font-size="13.2" textLength="26.4" lengthAdjust="spacingAndGlyphs">Beta</text>
<text x="246.7" y="319.3" text-anchor="start" font-size="13.2" textLength="29.6" lengthAdjust="spacingAndGlyphs">−5.0<tspan font-size="9.5" dy="-2.2">°</tspan></text>
<text x="286.7" y="342.7" text-anchor="start" font-size="13.2" textLength="37.7" lengthAdjust="spacingAndGlyphs">−10.0<tspan font-size="9.5" dy="-2.2">°</tspan></text>
<text x="305.8" y="367.2" text-anchor="middle" font-size="13.2" font-weight="bold">(a)</text>
<text x="351.6" y="325.1" text-anchor="start" font-size="13.2" textLength="22.2" lengthAdjust="spacingAndGlyphs">5.0<tspan font-size="9.5" dy="-2.2">°</tspan></text>
<text x="390.1" y="307.0" text-anchor="start" font-size="13.2" textLength="22.9" lengthAdjust="spacingAndGlyphs">2.5<tspan font-size="9.5" dy="-2.2">°</tspan></text>
<text x="425.0" y="289.5" text-anchor="start" font-size="13.2" textLength="22.1" lengthAdjust="spacingAndGlyphs">0.0<tspan font-size="9.5" dy="-2.2">°</tspan></text>
<text x="457.5" y="272.2" text-anchor="start" font-size="13.2" textLength="31.2" lengthAdjust="spacingAndGlyphs">−2.5<tspan font-size="9.5" dy="-2.2">°</tspan></text>
<text x="491.6" y="254.8" text-anchor="start" font-size="13.2" textLength="30.8" lengthAdjust="spacingAndGlyphs">−5.0<tspan font-size="9.5" dy="-2.2">°</tspan></text>
<text x="526.0" y="238.0" text-anchor="start" font-size="13.2" textLength="22.9" lengthAdjust="spacingAndGlyphs">7.5<tspan font-size="9.5" dy="-2.2">°</tspan></text>
<text x="435.8" y="327.5" text-anchor="start" font-size="13.2" textLength="22.9" lengthAdjust="spacingAndGlyphs">Alfa</text>
<text x="436.7" y="447.4" text-anchor="start" font-size="13.2" textLength="41.2" lengthAdjust="spacingAndGlyphs">80 keV</text>
<text x="78.3" y="448.9" text-anchor="end" font-size="13.2" textLength="31.9" lengthAdjust="spacingAndGlyphs">150.0</text>
<text x="79.5" y="489.6" text-anchor="end" font-size="13.2" textLength="31.9" lengthAdjust="spacingAndGlyphs">100.0</text>
<text x="81.6" y="528.5" text-anchor="end" font-size="13.2" textLength="24.4" lengthAdjust="spacingAndGlyphs">50.0</text>
<text x="89.1" y="573.3" text-anchor="end" font-size="13.2" textLength="16.3" lengthAdjust="spacingAndGlyphs">0.0</text>
<text x="48.6" y="514.0" text-anchor="middle" font-size="13.2" transform="rotate(-90 48.6 514.0)" textLength="56.8" lengthAdjust="spacingAndGlyphs">Efficiency</text>
<text x="128.8" y="620.1" text-anchor="start" font-size="13.2" textLength="21.6" lengthAdjust="spacingAndGlyphs">6.0<tspan font-size="9.5" dy="-2.2">°</tspan></text>
<text x="191.8" y="663.4" text-anchor="start" font-size="13.2" textLength="22.1" lengthAdjust="spacingAndGlyphs">0.0<tspan font-size="9.5" dy="-2.2">°</tspan></text>
<text x="153.3" y="676.6" text-anchor="start" font-size="13.2" textLength="26.4" lengthAdjust="spacingAndGlyphs">Beta</text>
<text x="257.9" y="705.4" text-anchor="start" font-size="13.2" textLength="29.3" lengthAdjust="spacingAndGlyphs">−6.0<tspan font-size="9.5" dy="-2.2">°</tspan></text>
<text x="310.8" y="719.9" text-anchor="start" font-size="13.2" textLength="21.7" lengthAdjust="spacingAndGlyphs">6.0<tspan font-size="9.5" dy="-2.2">°</tspan></text>
<text x="309.5" y="737.2" text-anchor="middle" font-size="13.2" font-weight="bold">(b)</text>
<text x="420.9" y="655.8" text-anchor="start" font-size="13.2" textLength="21.7" lengthAdjust="spacingAndGlyphs">0.0<tspan font-size="9.5" dy="-2.2">°</tspan></text>
<text x="515.2" y="589.7" text-anchor="start" font-size="13.2" textLength="29.3" lengthAdjust="spacingAndGlyphs">−6.0<tspan font-size="9.5" dy="-2.2">°</tspan></text>
<text x="439.4" y="683.7" text-anchor="start" font-size="13.2" textLength="22.4" lengthAdjust="spacingAndGlyphs">Alfa</text>
<g transform="rotate(-0.25 797.3 180.6)" stroke="#0a0a0a" stroke-width="1.3" fill="none">
<rect x="624.9" y="60.1" width="344.8" height="241.0"/>
<path d="M740.2 60.1v11.5M740.2 301.1v-11.5M789.9 60.1v11.5M789.9 301.1v-11.5M905.2 60.1v11.5M905.2 301.1v-11.5M674.6 60.1v8M674.6 301.1v-8M703.6 60.1v8M703.6 301.1v-8M724.2 60.1v8M724.2 301.1v-8M753.3 60.1v8M753.3 301.1v-8M764.3 60.1v8M764.3 301.1v-8M773.9 60.1v8M773.9 301.1v-8M782.4 60.1v8M782.4 301.1v-8M839.6 60.1v8M839.6 301.1v-8M868.6 60.1v8M868.6 301.1v-8M889.2 60.1v8M889.2 301.1v-8M918.3 60.1v8M918.3 301.1v-8M929.3 60.1v8M929.3 301.1v-8M938.9 60.1v8M938.9 301.1v-8M947.4 60.1v8M947.4 301.1v-8M954.9 60.1v8M954.9 301.1v-8M624.9 240.9h11.5M969.7 240.9h-11.5M624.9 180.6h11.5M969.7 180.6h-11.5M624.9 120.4h11.5M969.7 120.4h-11.5M624.9 289.1h7.8M969.7 289.1h-7.8M624.9 277.0h7.8M969.7 277.0h-7.8M624.9 265.0h7.8M969.7 265.0h-7.8M624.9 252.9h7.8M969.7 252.9h-7.8M624.9 228.8h7.8M969.7 228.8h-7.8M624.9 216.8h7.8M969.7 216.8h-7.8M624.9 204.7h7.8M969.7 204.7h-7.8M624.9 192.7h7.8M969.7 192.7h-7.8M624.9 168.6h7.8M969.7 168.6h-7.8M624.9 156.5h7.8M969.7 156.5h-7.8M624.9 144.5h7.8M969.7 144.5h-7.8M624.9 132.4h7.8M969.7 132.4h-7.8M624.9 108.3h7.8M969.7 108.3h-7.8M624.9 96.2h7.8M969.7 96.2h-7.8M624.9 84.2h7.8M969.7 84.2h-7.8M624.9 72.2h7.8M969.7 72.2h-7.8"/>
</g>
<text x="787.0" y="28.9" text-anchor="middle" font-size="13.2" textLength="186.6" lengthAdjust="spacingAndGlyphs">Calculated, Aperture-Integrated</text>
<text x="787.6" y="43.7" text-anchor="middle" font-size="13.2" textLength="110.9" lengthAdjust="spacingAndGlyphs">Geometric Factors</text>
<text x="620.3" y="67.4" text-anchor="end" font-size="13.2" textLength="25.3" lengthAdjust="spacingAndGlyphs">0.04</text>
<text x="620.3" y="127.2" text-anchor="end" font-size="13.2" textLength="25.3" lengthAdjust="spacingAndGlyphs">0.03</text>
<text x="620.3" y="187.4" text-anchor="end" font-size="13.2" textLength="25.3" lengthAdjust="spacingAndGlyphs">0.02</text>
<text x="620.3" y="248.0" text-anchor="end" font-size="13.2" textLength="25.3" lengthAdjust="spacingAndGlyphs">0.01</text>
<text x="622.5" y="308.0" text-anchor="end" font-size="13.2">0</text>
<text x="618.3" y="320.7" font-size="13.2">10<tspan dy="-5.5" font-size="10.3" dx="0.5">1</tspan></text>
<text x="783.9" y="320.7" font-size="13.2">10<tspan dy="-5.5" font-size="10.3" dx="0.5">2</tspan></text>
<text x="956.5" y="320.7" font-size="13.2">10<tspan dy="-5.5" font-size="10.3" dx="0.5">3</tspan></text>
<text x="756.8" y="335.3" text-anchor="start" font-size="13.2" textLength="76.6" lengthAdjust="spacingAndGlyphs">Energy (Kev)</text>
<text x="792.4" y="361.4" text-anchor="middle" font-size="13.2" font-weight="bold">(c)</text>
<text x="584.0" y="181.5" text-anchor="middle" font-size="13.6" transform="rotate(-90 584.0 181.5)">Geometric factor SR-CM<tspan dy="-4.5" dx="2.5" font-size="10.6">2</tspan></text>
<text x="655.5" y="88.0" text-anchor="start" font-size="13.2" textLength="63.5" lengthAdjust="spacingAndGlyphs">Calculated</text>
<text x="655.5" y="107.5" text-anchor="start" font-size="13.2" textLength="71.5" lengthAdjust="spacingAndGlyphs">Interpolated</text>
<text x="869.1" y="106.8" text-anchor="start" font-size="13.2" textLength="49.3" lengthAdjust="spacingAndGlyphs">Electron</text>
<text x="862.3" y="126.1" text-anchor="start" font-size="13.2" textLength="62.8" lengthAdjust="spacingAndGlyphs">Detector E</text>
<path d="M640.0 85.5L646.8 85.5L643.4 79.0Z" fill="#fbfbfb" stroke="#0a0a0a" stroke-width="1.2" stroke-linejoin="miter"/>
<circle cx="644.2" cy="103.0" r="3.2" fill="#0a0a0a" stroke="none"/>
<circle cx="712.8" cy="185.7" r="3.2" fill="#0a0a0a" stroke="none"/>
<circle cx="716.5" cy="171.1" r="3.2" fill="#0a0a0a" stroke="none"/>
<circle cx="721.1" cy="156.0" r="3.2" fill="#0a0a0a" stroke="none"/>
<circle cx="732.9" cy="123.1" r="3.2" fill="#0a0a0a" stroke="none"/>
<circle cx="753.3" cy="100.0" r="3.2" fill="#0a0a0a" stroke="none"/>
<circle cx="763.8" cy="94.5" r="3.2" fill="#0a0a0a" stroke="none"/>
<circle cx="783.6" cy="98.0" r="3.2" fill="#0a0a0a" stroke="none"/>
<circle cx="803.6" cy="116.8" r="3.2" fill="#0a0a0a" stroke="none"/>
<circle cx="815.1" cy="135.9" r="3.2" fill="#0a0a0a" stroke="none"/>
<circle cx="824.4" cy="157.0" r="3.2" fill="#0a0a0a" stroke="none"/>
<circle cx="833.4" cy="178.9" r="3.2" fill="#0a0a0a" stroke="none"/>
<circle cx="707.7" cy="203.1" r="3.2" fill="#0a0a0a" stroke="none"/>
<circle cx="698.9" cy="234.8" r="3.2" fill="#0a0a0a" stroke="none"/>
<circle cx="693.2" cy="249.8" r="3.2" fill="#0a0a0a" stroke="none"/>
<circle cx="687.9" cy="264.4" r="3.2" fill="#0a0a0a" stroke="none"/>
<circle cx="681.1" cy="277.5" r="3.2" fill="#0a0a0a" stroke="none"/>
<circle cx="848.3" cy="217.2" r="3.2" fill="#0a0a0a" stroke="none"/>
<circle cx="854.5" cy="231.0" r="3.2" fill="#0a0a0a" stroke="none"/>
<circle cx="860.3" cy="241.8" r="3.2" fill="#0a0a0a" stroke="none"/>
<circle cx="866.3" cy="251.6" r="3.2" fill="#0a0a0a" stroke="none"/>
<circle cx="870.9" cy="258.4" r="3.2" fill="#0a0a0a" stroke="none"/>
<circle cx="881.7" cy="267.9" r="3.2" fill="#0a0a0a" stroke="none"/>
<circle cx="898.8" cy="276.0" r="3.2" fill="#0a0a0a" stroke="none"/>
<circle cx="907.3" cy="280.0" r="3.2" fill="#0a0a0a" stroke="none"/>
<circle cx="914.1" cy="283.0" r="3.2" fill="#0a0a0a" stroke="none"/>
<circle cx="930.9" cy="289.3" r="3.2" fill="#0a0a0a" stroke="none"/>
<circle cx="949.0" cy="294.3" r="3.2" fill="#0a0a0a" stroke="none"/>
<path d="M721.4 147.4L728.2 147.4L724.8 140.9Z" fill="#fbfbfb" stroke="#0a0a0a" stroke-width="1.2" stroke-linejoin="miter"/>
<path d="M737.0 115.5L743.8 115.5L740.4 109.0Z" fill="#fbfbfb" stroke="#0a0a0a" stroke-width="1.2" stroke-linejoin="miter"/>
<path d="M770.9 98.2L777.7 98.2L774.3 91.7Z" fill="#fbfbfb" stroke="#0a0a0a" stroke-width="1.2" stroke-linejoin="miter"/>
<path d="M787.1 106.4L793.9 106.4L790.5 99.9Z" fill="#fbfbfb" stroke="#0a0a0a" stroke-width="1.2" stroke-linejoin="miter"/>
<path d="M700.1 222.3L706.9 222.3L703.5 215.8Z" fill="#fbfbfb" stroke="#0a0a0a" stroke-width="1.2" stroke-linejoin="miter"/>
<path d="M670.9 290.9L677.7 290.9L674.3 284.4Z" fill="#fbfbfb" stroke="#0a0a0a" stroke-width="1.2" stroke-linejoin="miter"/>
<path d="M837.6 202.5L844.4 202.5L841.0 196.0Z" fill="#fbfbfb" stroke="#0a0a0a" stroke-width="1.2" stroke-linejoin="miter"/>
<path d="M887.1 275.1L893.9 275.1L890.5 268.6Z" fill="#fbfbfb" stroke="#0a0a0a" stroke-width="1.2" stroke-linejoin="miter"/>
<path d="M916.5 288.9L923.3 288.9L919.9 282.4Z" fill="#fbfbfb" stroke="#0a0a0a" stroke-width="1.2" stroke-linejoin="miter"/>
<path d="M937.6 295.2L944.4 295.2L941.0 288.7Z" fill="#fbfbfb" stroke="#0a0a0a" stroke-width="1.2" stroke-linejoin="miter"/>
<path d="M954.4 298.0L961.2 298.0L957.8 291.5Z" fill="#fbfbfb" stroke="#0a0a0a" stroke-width="1.2" stroke-linejoin="miter"/>
<g transform="rotate(0 798.9 554.4)" stroke="#0a0a0a" stroke-width="1.3" fill="none">
<rect x="626.6" y="433.1" width="344.5" height="242.5"/>
<path d="M839.2 433.1v11M839.2 675.6v-11M930.7 433.1v11M930.7 675.6v-11M718.1 433.1v8.2M718.1 675.6v-8.2M771.7 433.1v8.2M771.7 675.6v-8.2M809.7 433.1v8.2M809.7 675.6v-8.2M863.2 433.1v8.2M863.2 675.6v-8.2M883.6 433.1v8.2M883.6 675.6v-8.2M901.2 433.1v8.2M901.2 675.6v-8.2M916.8 433.1v8.2M916.8 675.6v-8.2M626.6 554.4h11.8M971.1 554.4h-11.8M626.6 663.5h7.5M971.1 663.5h-7.5M626.6 651.4h7.5M971.1 651.4h-7.5M626.6 639.2h7.5M971.1 639.2h-7.5M626.6 627.1h7.5M971.1 627.1h-7.5M626.6 615.0h7.5M971.1 615.0h-7.5M626.6 602.9h7.5M971.1 602.9h-7.5M626.6 590.7h7.5M971.1 590.7h-7.5M626.6 578.6h7.5M971.1 578.6h-7.5M626.6 566.5h7.5M971.1 566.5h-7.5M626.6 542.2h7.5M971.1 542.2h-7.5M626.6 530.1h7.5M971.1 530.1h-7.5M626.6 518.0h7.5M971.1 518.0h-7.5M626.6 505.9h7.5M971.1 505.9h-7.5M626.6 493.7h7.5M971.1 493.7h-7.5M626.6 481.6h7.5M971.1 481.6h-7.5M626.6 469.5h7.5M971.1 469.5h-7.5M626.6 457.4h7.5M971.1 457.4h-7.5M626.6 445.2h7.5M971.1 445.2h-7.5"/>
</g>
<text x="622.8" y="439.8" text-anchor="end" font-size="13.2" textLength="25.3" lengthAdjust="spacingAndGlyphs">0.02</text>
<text x="622.8" y="560.3" text-anchor="end" font-size="13.2" textLength="25.3" lengthAdjust="spacingAndGlyphs">0.01</text>
<text x="623.5" y="682.3" text-anchor="end" font-size="13.2">0</text>
<text x="618.3" y="697.2" font-size="13.2">10<tspan dy="-5.5" font-size="10.3" dx="0.5">2</tspan></text>
<text x="924.6" y="697.2" font-size="13.2">10<tspan dy="-5.5" font-size="10.3" dx="0.5">3</tspan></text>
<text x="756.8" y="710.5" text-anchor="start" font-size="13.2" textLength="77.1" lengthAdjust="spacingAndGlyphs">Energy (Kev)</text>
<text x="791.8" y="736.9" text-anchor="middle" font-size="13.2" font-weight="bold">(d)</text>
<text x="584.0" y="547.0" text-anchor="middle" font-size="13.6" transform="rotate(-90 584.0 547.0)">Geometric factor SR-CM<tspan dy="-4.5" dx="2.5" font-size="10.6">2</tspan></text>
<text x="674.8" y="466.5" text-anchor="start" font-size="13.2" textLength="63.5" lengthAdjust="spacingAndGlyphs">Calculated</text>
<text x="674.8" y="486.6" text-anchor="start" font-size="13.2" textLength="71.5" lengthAdjust="spacingAndGlyphs">Interpolated</text>
<text x="881.2" y="620.8" text-anchor="start" font-size="13.2" textLength="49.0" lengthAdjust="spacingAndGlyphs">Electron</text>
<text x="874.4" y="640.6" text-anchor="start" font-size="13.2" textLength="60.8" lengthAdjust="spacingAndGlyphs">Detector F</text>
<path d="M658.4 464.4L665.2 464.4L661.8 457.9Z" fill="#fbfbfb" stroke="#0a0a0a" stroke-width="1.2" stroke-linejoin="miter"/>
<circle cx="662.3" cy="482.9" r="3.2" fill="#0a0a0a" stroke="none"/>
<circle cx="805.0" cy="503.5" r="3.2" fill="#0a0a0a" stroke="none"/>
<circle cx="796.4" cy="520.0" r="3.2" fill="#0a0a0a" stroke="none"/>
<circle cx="788.1" cy="537.9" r="3.2" fill="#0a0a0a" stroke="none"/>
<circle cx="778.5" cy="557.7" r="3.2" fill="#0a0a0a" stroke="none"/>
<circle cx="768.9" cy="575.7" r="3.2" fill="#0a0a0a" stroke="none"/>
<circle cx="758.0" cy="594.2" r="3.2" fill="#0a0a0a" stroke="none"/>
<circle cx="812.6" cy="485.9" r="3.2" fill="#0a0a0a" stroke="none"/>
<circle cx="819.1" cy="471.8" r="3.2" fill="#0a0a0a" stroke="none"/>
<circle cx="841.2" cy="442.9" r="3.2" fill="#0a0a0a" stroke="none"/>
<circle cx="855.0" cy="439.1" r="3.2" fill="#0a0a0a" stroke="none"/>
<circle cx="868.1" cy="442.9" r="3.2" fill="#0a0a0a" stroke="none"/>
<circle cx="889.7" cy="462.8" r="3.2" fill="#0a0a0a" stroke="none"/>
<circle cx="899.8" cy="471.1" r="3.2" fill="#0a0a0a" stroke="none"/>
<circle cx="908.3" cy="480.6" r="3.2" fill="#0a0a0a" stroke="none"/>
<circle cx="924.9" cy="494.9" r="3.2" fill="#0a0a0a" stroke="none"/>
<circle cx="932.2" cy="500.7" r="3.2" fill="#0a0a0a" stroke="none"/>
<circle cx="939.2" cy="502.7" r="3.2" fill="#0a0a0a" stroke="none"/>
<circle cx="746.9" cy="613.0" r="3.2" fill="#0a0a0a" stroke="none"/>
<circle cx="720.1" cy="642.9" r="3.2" fill="#0a0a0a" stroke="none"/>
<circle cx="704.2" cy="655.2" r="3.2" fill="#0a0a0a" stroke="none"/>
<circle cx="686.4" cy="665.0" r="3.2" fill="#0a0a0a" stroke="none"/>
<circle cx="666.3" cy="670.8" r="3.2" fill="#0a0a0a" stroke="none"/>
<path d="M822.7 463.2L829.5 463.2L826.1 456.7Z" fill="#fbfbfb" stroke="#0a0a0a" stroke-width="1.2" stroke-linejoin="miter"/>
<path d="M875.5 456.4L882.3 456.4L878.9 449.9Z" fill="#fbfbfb" stroke="#0a0a0a" stroke-width="1.2" stroke-linejoin="miter"/>
<path d="M913.2 491.3L920.0 491.3L916.6 484.8Z" fill="#fbfbfb" stroke="#0a0a0a" stroke-width="1.2" stroke-linejoin="miter"/>
<path d="M943.3 504.6L950.1 504.6L946.7 498.1Z" fill="#fbfbfb" stroke="#0a0a0a" stroke-width="1.2" stroke-linejoin="miter"/>
<path d="M731.2 631.2L738.0 631.2L734.6 624.7Z" fill="#fbfbfb" stroke="#0a0a0a" stroke-width="1.2" stroke-linejoin="miter"/>
<path d="M639.5 678.7L646.3 678.7L642.9 672.2Z" fill="#fbfbfb" stroke="#0a0a0a" stroke-width="1.2" stroke-linejoin="miter"/>
</svg>
</body></html>
